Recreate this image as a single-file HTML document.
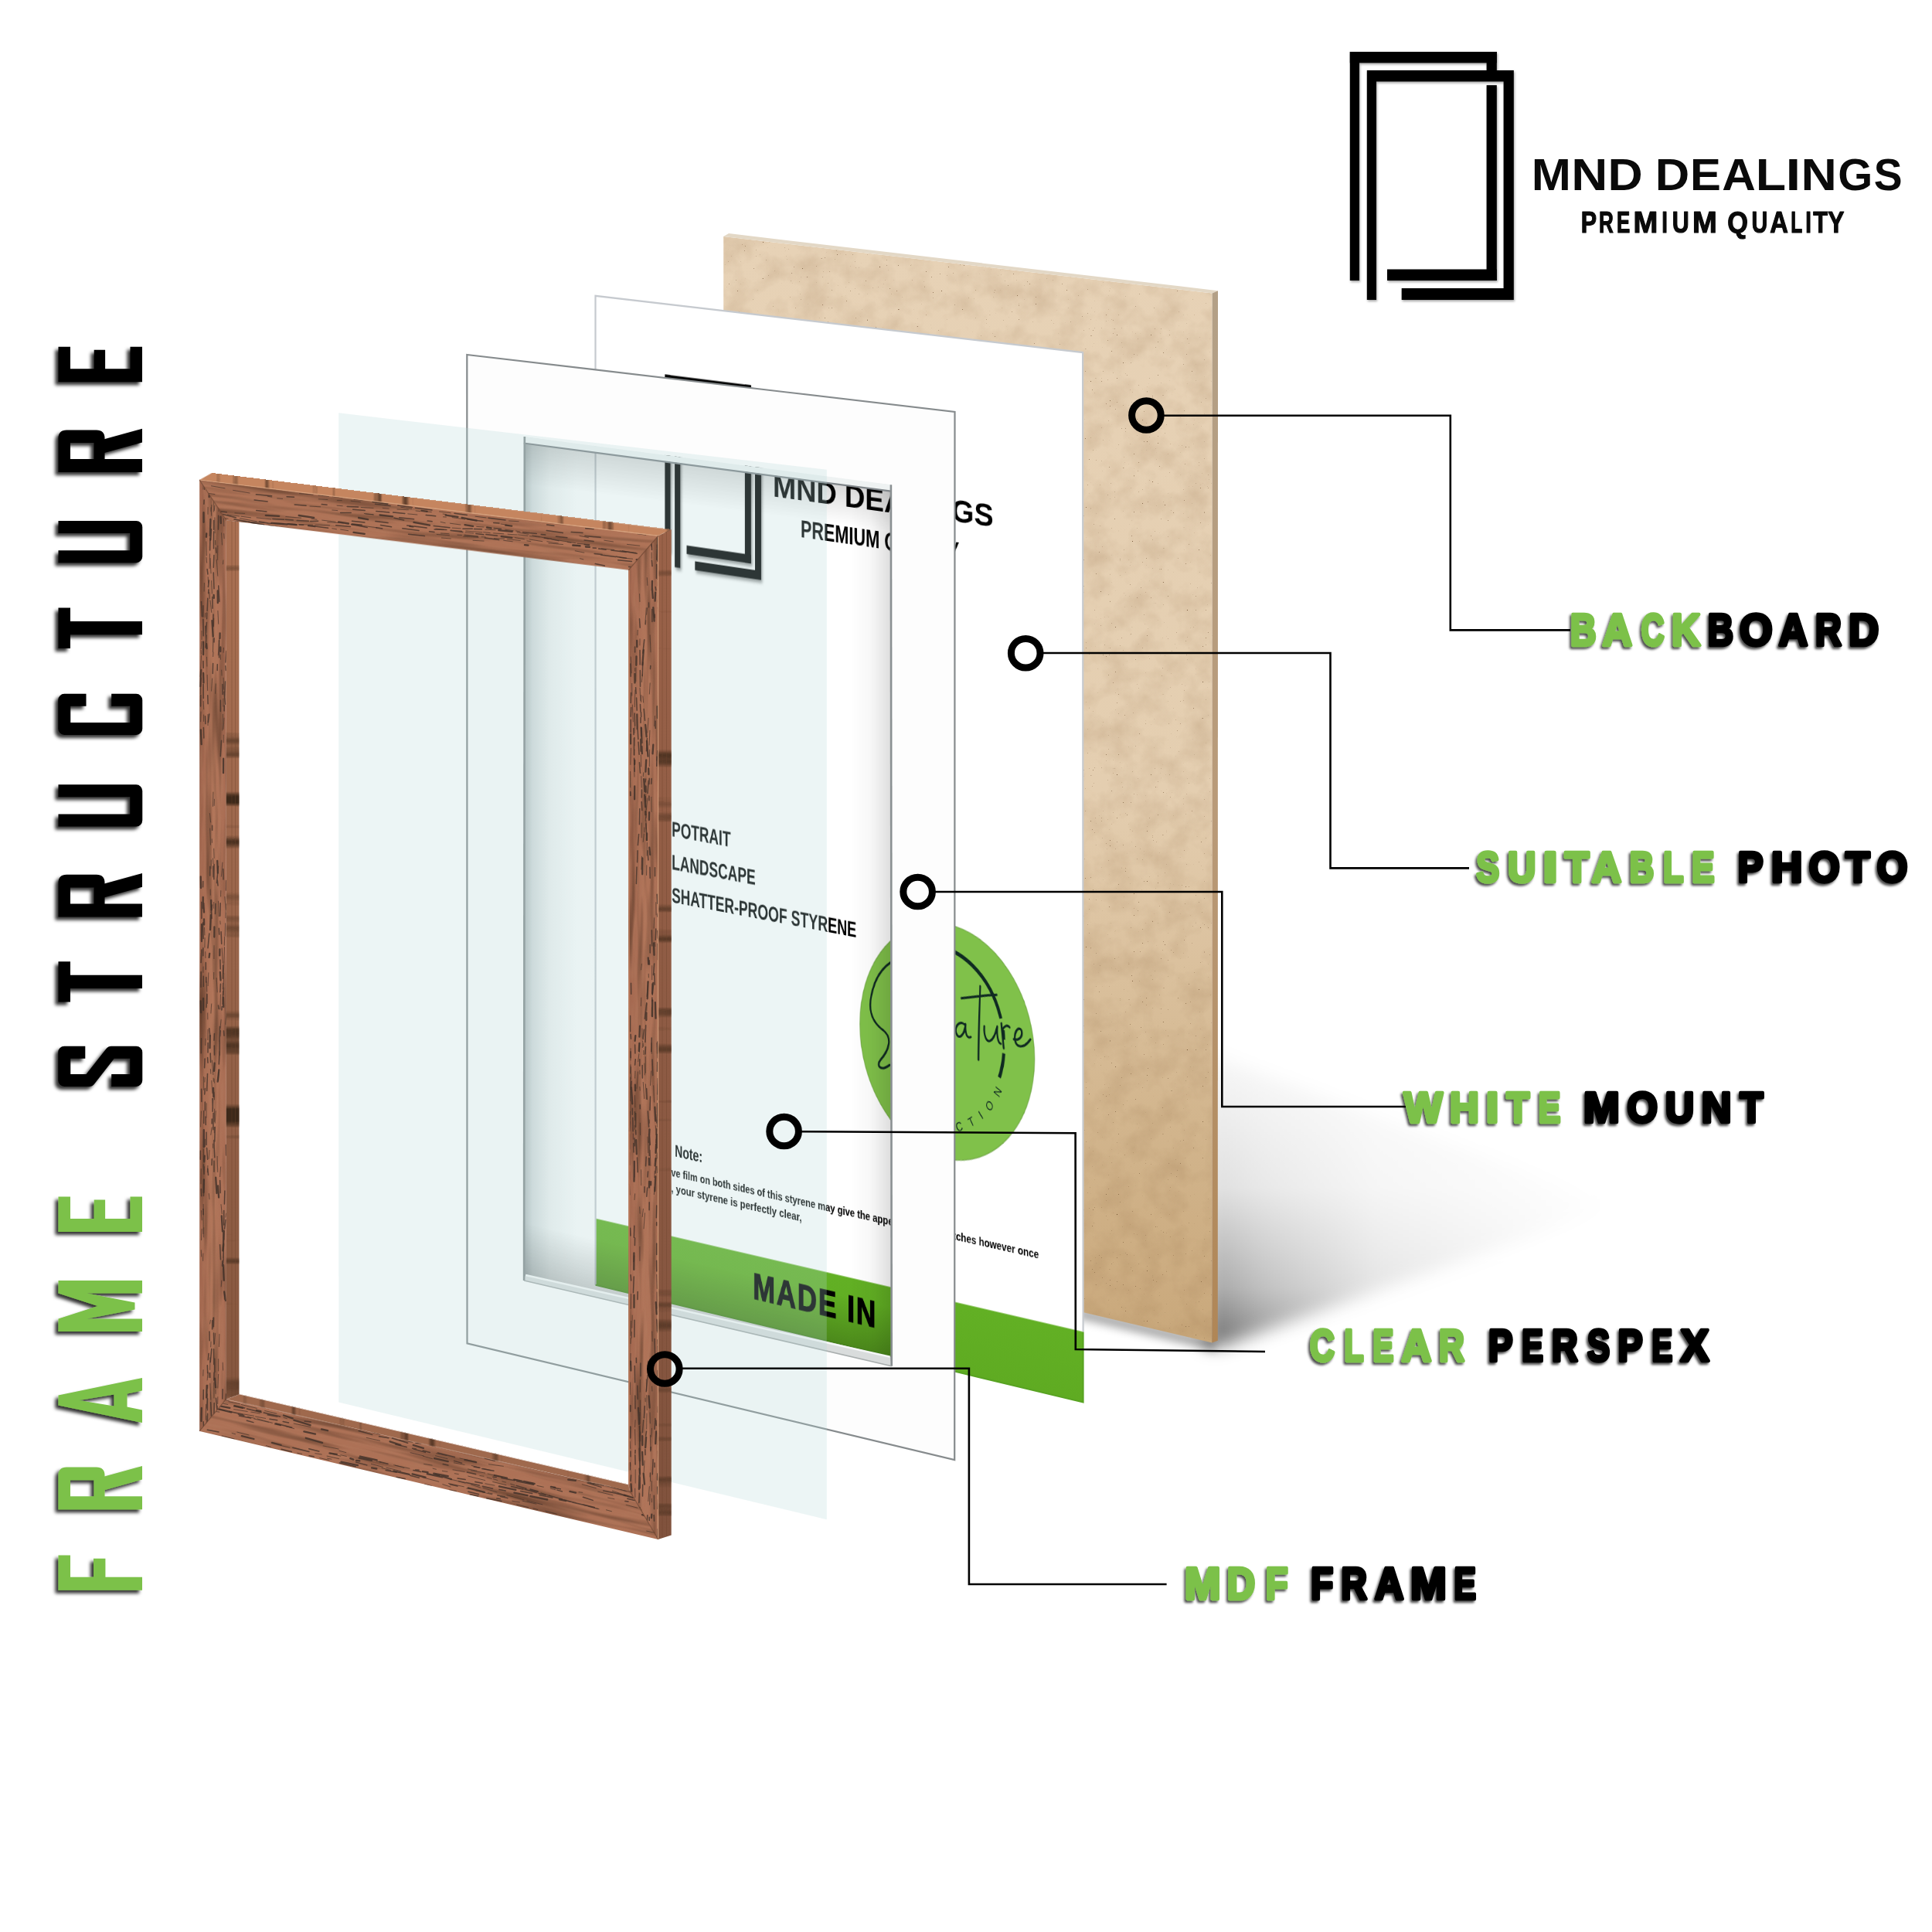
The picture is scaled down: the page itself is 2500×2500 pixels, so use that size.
<!DOCTYPE html>
<html><head><meta charset="utf-8"><title>Frame Structure</title>
<style>
html,body{margin:0;padding:0;background:#fff}
#stage{position:relative;width:2500px;height:2500px;overflow:hidden;background:#fff;font-family:"Liberation Sans",sans-serif}
#stage>svg{position:absolute;left:0;top:0}
#photo{position:absolute;left:0;top:0;width:860px;height:1320px;transform-origin:0 0;transform:matrix3d(0.63910162,0.054582547,0,-6.7200199e-05,-0.00026757993,0.9688804,0,-4.4554569e-07,0,0,1,0,770.5,382.8,0,1);outline:1px solid transparent;backface-visibility:hidden}
text{font-family:"Liberation Sans",sans-serif}
</style></head><body><div id="stage">
<svg id="back" width="2500" height="2500" viewBox="0 0 2500 2500"><defs>
<filter id="mdf" x="0" y="0" width="100%" height="100%" color-interpolation-filters="sRGB">
 <feTurbulence type="fractalNoise" baseFrequency="0.03" numOctaves="4" seed="11" result="n"/>
 <feColorMatrix in="n" type="matrix" values="0 0 0 0 0.55  0 0 0 0 0.40  0 0 0 0 0.25  0.34 0 0 0 -0.13" result="c"/>
 <feComposite in="c" in2="SourceGraphic" operator="in" result="cc"/>
 <feTurbulence type="fractalNoise" baseFrequency="0.45" numOctaves="2" seed="5" result="n2"/>
 <feColorMatrix in="n2" type="matrix" values="0 0 0 0 0.40  0 0 0 0 0.28  0 0 0 0 0.16  7 0 0 0 -5.45" result="c2"/>
 <feComposite in="c2" in2="SourceGraphic" operator="in" result="cc2"/>
 <feMerge><feMergeNode in="SourceGraphic"/><feMergeNode in="cc"/><feMergeNode in="cc2"/></feMerge>
</filter>
<filter id="woodV" x="0" y="0" width="100%" height="100%" color-interpolation-filters="sRGB">
 <feTurbulence type="fractalNoise" baseFrequency="0.12 0.008" numOctaves="2" seed="4" result="n"/>
 <feColorMatrix in="n" type="matrix" values="0 0 0 0 0.30  0 0 0 0 0.19  0 0 0 0 0.13  1.5 0 0 0 -0.68" result="c"/>
 <feComposite in="c" in2="SourceGraphic" operator="in" result="cc"/>
 <feTurbulence type="fractalNoise" baseFrequency="0.3 0.03" numOctaves="2" seed="9" result="n2"/>
 <feColorMatrix in="n2" type="matrix" values="0 0 0 0 0.70  0 0 0 0 0.49  0 0 0 0 0.38  0.9 0 0 0 -0.36" result="c2"/>
 <feComposite in="c2" in2="SourceGraphic" operator="in" result="cc2"/>
 <feMerge><feMergeNode in="SourceGraphic"/><feMergeNode in="cc2"/><feMergeNode in="cc"/></feMerge>
</filter>
<filter id="woodH" x="0" y="0" width="100%" height="100%" color-interpolation-filters="sRGB">
 <feTurbulence type="fractalNoise" baseFrequency="0.008 0.12" numOctaves="2" seed="8" result="n"/>
 <feColorMatrix in="n" type="matrix" values="0 0 0 0 0.30  0 0 0 0 0.19  0 0 0 0 0.13  1.5 0 0 0 -0.68" result="c"/>
 <feComposite in="c" in2="SourceGraphic" operator="in" result="cc"/>
 <feTurbulence type="fractalNoise" baseFrequency="0.03 0.3" numOctaves="2" seed="2" result="n2"/>
 <feColorMatrix in="n2" type="matrix" values="0 0 0 0 0.70  0 0 0 0 0.49  0 0 0 0 0.38  0.9 0 0 0 -0.36" result="c2"/>
 <feComposite in="c2" in2="SourceGraphic" operator="in" result="cc2"/>
 <feMerge><feMergeNode in="SourceGraphic"/><feMergeNode in="cc2"/><feMergeNode in="cc"/></feMerge>
</filter>
<filter id="bandH" x="0" y="0" width="100%" height="100%" color-interpolation-filters="sRGB">
 <feTurbulence type="fractalNoise" baseFrequency="0.05 0.001" numOctaves="3" seed="3" result="n"/>
 <feColorMatrix in="n" type="matrix" values="0 0 0 0 0.28  0 0 0 0 0.18  0 0 0 0 0.12  5 0 0 0 -3.0" result="c"/>
 <feComposite in="c" in2="SourceGraphic" operator="in" result="cc"/>
 <feMerge><feMergeNode in="SourceGraphic"/><feMergeNode in="cc"/></feMerge>
</filter>
<filter id="bandV" x="0" y="0" width="100%" height="100%" color-interpolation-filters="sRGB">
 <feTurbulence type="fractalNoise" baseFrequency="0.001 0.03" numOctaves="3" seed="6" result="n"/>
 <feColorMatrix in="n" type="matrix" values="0 0 0 0 0.24  0 0 0 0 0.16  0 0 0 0 0.10  5 0 0 0 -3.0" result="c"/>
 <feComposite in="c" in2="SourceGraphic" operator="in" result="cc"/>
 <feMerge><feMergeNode in="SourceGraphic"/><feMergeNode in="cc"/></feMerge>
</filter>
<filter id="blur20" x="-20%" y="-20%" width="140%" height="140%"><feGaussianBlur stdDeviation="11"/></filter>
<filter id="soft" x="-5%" y="-5%" width="110%" height="110%"><feGaussianBlur stdDeviation="0.55"/></filter>
<filter id="blur6" x="-20%" y="-50%" width="140%" height="200%"><feGaussianBlur stdDeviation="6"/></filter>
<filter id="ds" x="-5%" y="-5%" width="110%" height="110%"><feDropShadow dx="-2.2" dy="2.8" stdDeviation="1.5" flood-color="#000" flood-opacity="0.7"/></filter>
<filter id="dsv" x="-20%" y="-5%" width="140%" height="110%"><feDropShadow dx="-4" dy="4" stdDeviation="2.2" flood-color="#000" flood-opacity="0.8"/></filter>
<linearGradient id="gbb" x1="0" y1="306" x2="0" y2="1737" gradientUnits="userSpaceOnUse">
 <stop offset="0" stop-color="#e7d2b6"/><stop offset="0.5" stop-color="#e4ceb0"/><stop offset="0.62" stop-color="#ddc4a2"/><stop offset="0.8" stop-color="#d2b58d"/><stop offset="1" stop-color="#c9a87b"/></linearGradient>
<linearGradient id="gbbs" x1="0" y1="376" x2="0" y2="1737" gradientUnits="userSpaceOnUse">
 <stop offset="0" stop-color="#b3a087"/><stop offset="0.5" stop-color="#b99a78"/><stop offset="1" stop-color="#b08656"/></linearGradient>
<linearGradient id="gshadow" x1="1576" y1="0" x2="2090" y2="0" gradientUnits="userSpaceOnUse">
 <stop offset="0" stop-color="#000" stop-opacity="0.56"/><stop offset="0.12" stop-color="#000" stop-opacity="0.40"/><stop offset="0.4" stop-color="#000" stop-opacity="0.17"/><stop offset="1" stop-color="#000" stop-opacity="0"/></linearGradient>
<linearGradient id="gshmask" x1="0" y1="1370" x2="0" y2="1740" gradientUnits="userSpaceOnUse">
 <stop offset="0" stop-color="#fff" stop-opacity="0.06"/><stop offset="0.45" stop-color="#fff" stop-opacity="0.22"/><stop offset="0.8" stop-color="#fff" stop-opacity="0.6"/><stop offset="1" stop-color="#fff" stop-opacity="1"/></linearGradient>
<mask id="shmask" maskUnits="userSpaceOnUse" x="1400" y="1200" width="900" height="700"><rect x="1400" y="1200" width="900" height="700" fill="url(#gshmask)"/></mask>
<linearGradient id="gwinL" x1="678" y1="0" x2="790" y2="0" gradientUnits="userSpaceOnUse">
 <stop offset="0" stop-color="#b4bbbd"/><stop offset="0.1" stop-color="#d6dcdd"/><stop offset="0.3" stop-color="#eef1f1"/><stop offset="0.6" stop-color="#fbfcfc"/><stop offset="1" stop-color="#ffffff"/></linearGradient>
<linearGradient id="gwinR" x1="1100" y1="0" x2="1153" y2="0" gradientUnits="userSpaceOnUse">
 <stop offset="0" stop-color="#000" stop-opacity="0"/><stop offset="0.5" stop-color="#000" stop-opacity="0.03"/><stop offset="1" stop-color="#000" stop-opacity="0.13"/></linearGradient>
<linearGradient id="gwoodL" x1="258" y1="0" x2="293" y2="0" gradientUnits="userSpaceOnUse">
 <stop offset="0" stop-color="#a1664e"/><stop offset="0.5" stop-color="#b2765a"/><stop offset="1" stop-color="#a96d54"/></linearGradient>
<linearGradient id="gwoodR" x1="813" y1="0" x2="852" y2="0" gradientUnits="userSpaceOnUse">
 <stop offset="0" stop-color="#a2674f"/><stop offset="0.5" stop-color="#b07459"/><stop offset="1" stop-color="#ab6f55"/></linearGradient>
<linearGradient id="gside" x1="0" y1="690" x2="0" y2="1990" gradientUnits="userSpaceOnUse">
 <stop offset="0" stop-color="#9a6249"/><stop offset="0.5" stop-color="#8e5b44"/><stop offset="1" stop-color="#80523d"/></linearGradient>
<linearGradient id="ginner" x1="0" y1="675" x2="0" y2="1805" gradientUnits="userSpaceOnUse">
 <stop offset="0" stop-color="#aa7052"/><stop offset="0.5" stop-color="#98644a"/><stop offset="1" stop-color="#86573f"/></linearGradient>
</defs>
<g mask="url(#shmask)"><g filter="url(#blur20)"><polygon points="1560.0,1360.0 1560.0,1742.0 1580.0,1742.0 2090.0,1560.0" fill="url(#gshadow)"/></g></g><g filter="url(#blur6)" opacity="0.35"><polygon points="1395.0,1692.0 1572.0,1734.0 1572.0,1748.0 1395.0,1706.0" fill="#000"/></g><polygon points="936.2,306.0 1568.6,379.4 1568.4,1737.4 936.2,1588.2" fill="url(#gbb)" filter="url(#mdf)"/><polygon points="936.2,306.0 943.0,302.1 1576.0,376.2 1568.6,379.4" fill="#e3d8c6"/><polygon points="1568.6,379.4 1576.0,376.2 1575.8,1734.8 1568.4,1737.4" fill="url(#gbbs)"/><polygon points="677.8,565.0 1152.9,627.2 1153.7,1767.7 678.1,1657.0" fill="url(#gwinL)"/></svg><div id="photo"><svg width="860" height="1320" viewBox="0 0 860 1320"><defs><path id="arcbot" d="M 515.9,973.7 A 125.5,125.5 0 0 0 726.6,944"/><linearGradient id="ggb" x1="0" y1="1231" x2="0" y2="1320" gradientUnits="userSpaceOnUse"><stop offset="0" stop-color="#62b024"/><stop offset="1" stop-color="#5fab22"/></linearGradient></defs><rect x="0" y="0" width="860" height="1320" fill="#fff"/><filter id="lgs" x="-10%" y="-10%" width="130%" height="130%"><feDropShadow dx="2" dy="3.5" stdDeviation="2.2" flood-color="#000" flood-opacity="0.45"/></filter><g filter="url(#lgs)"><g transform="translate(129,93.6) scale(0.825,0.788)"><g fill="#000"><rect x="0" y="0" width="12.2" height="296"/><rect x="0" y="0" width="190" height="14.4"/><rect x="176.8" y="0" width="13.2" height="24.5"/><rect x="176.8" y="43.2" width="13.2" height="252.8"/><rect x="48.2" y="281.5" width="141.8" height="14.5"/><path d="M22,321 V24 H212 V321 H66.9 V306 H198.8 V38.6 H34.2 V321 Z"/></g></g></g><text x="325" y="235" font-size="41.2" font-weight="700" fill="#000" textLength="385" lengthAdjust="spacingAndGlyphs">MND DEALINGS</text><text x="374.5" y="283" font-size="31.5" font-weight="700" fill="#000" textLength="277" lengthAdjust="spacingAndGlyphs">PREMIUM QUALITY</text><text transform="translate(141.5,702.7) scale(0.875,1)" font-size="28" font-weight="700" fill="#000">POTRAIT</text><text transform="translate(141.5,746.4) scale(0.875,1)" font-size="28" font-weight="700" fill="#000">LANDSCAPE</text><text transform="translate(141.5,790.0) scale(0.875,1)" font-size="28" font-weight="700" fill="#000">SHATTER-PROOF STYRENE</text><circle cx="629" cy="901" r="150" fill="#80c14a"/><circle cx="629" cy="901" r="150" fill="none" stroke="#5f9a32" stroke-width="1.5" opacity="0.6"/><path d="M 598.4,783.7 A 110,110 0 0 1 722.1,858" fill="none" stroke="#0f2a22" stroke-width="5.2"/><path d="M 727.1,901.6 A 110,110 0 0 1 719.5,933.2" fill="none" stroke="#0f2a22" stroke-width="5.2"/><path d="M 726.5,872 A 110,110 0 0 1 727.5,884" fill="none" stroke="#0f2a22" stroke-width="4"/><g fill="none" stroke="#0f2a22" stroke-width="3" stroke-linecap="round" stroke-linejoin="round"><path d="M 572,800 C 545,803 518,818 505,845 C 489,880 500,895 520,903 C 536,910 531,926 515,942 C 507,951 516,957 531,946"/><path d="M 575,878 L 578,900 M 590,880 C 582,880 582,898 592,895 C 598,892 598,880 598,930 C 597,948 586,946 588,932"/><path d="M 610,897 C 612,878 620,880 622,897 C 624,878 632,880 634,897"/><path d="M 661,875 C 651,870 643,880 646,888 C 650,896 660,890 662,874 C 661,885 664,893 671,889"/><path d="M 687,822 C 686,850 684,890 684,916 M 655,842 C 675,838 695,832 715,829"/><path d="M 694,872 C 693,885 698,892 704,889 C 710,886 714,876 716,869 C 715,880 717,890 722,890"/><path d="M 723,864 C 724,875 726,888 727,895 M 724,873 C 728,866 733,864 737,867"/><path d="M 744,881 C 752,882 760,876 757,868 C 752,862 744,872 746,882 C 749,892 762,890 772,877"/></g><text font-size="16" fill="#0f2a22" letter-spacing="13.2" font-weight="400"><textPath href="#arcbot" startOffset="27">COLLECTION</textPath></text><text transform="translate(147,1125) scale(0.9,1)" font-size="22" font-weight="700" fill="#000">Note:</text><text transform="translate(62.4,1152) scale(1.018,1)" font-size="15" font-weight="700" fill="#000">he protective film on both sides of this styrene may give the appearance of scratches however once</text><text transform="translate(74.5,1173) scale(1.054,1)" font-size="15" font-weight="700" fill="#000">removed, your styrene is perfectly clear,</text><rect x="0" y="1231.4" width="860" height="88.6" fill="url(#ggb)"/><text x="288.8" y="1288.5" font-size="48" font-weight="700" fill="#000" stroke="#000" stroke-width="1.3" letter-spacing="2.6">MADE IN</text><text x="548" y="1288.5" font-size="48" font-weight="700" fill="#0c0c0c" letter-spacing="2.6">UK</text></svg></div><svg id="front" width="2500" height="2500" viewBox="0 0 2500 2500"><defs>
<filter id="f_mdf" x="0" y="0" width="100%" height="100%" color-interpolation-filters="sRGB">
 <feTurbulence type="fractalNoise" baseFrequency="0.03" numOctaves="4" seed="11" result="n"/>
 <feColorMatrix in="n" type="matrix" values="0 0 0 0 0.55  0 0 0 0 0.40  0 0 0 0 0.25  0.34 0 0 0 -0.13" result="c"/>
 <feComposite in="c" in2="SourceGraphic" operator="in" result="cc"/>
 <feTurbulence type="fractalNoise" baseFrequency="0.45" numOctaves="2" seed="5" result="n2"/>
 <feColorMatrix in="n2" type="matrix" values="0 0 0 0 0.40  0 0 0 0 0.28  0 0 0 0 0.16  7 0 0 0 -5.45" result="c2"/>
 <feComposite in="c2" in2="SourceGraphic" operator="in" result="cc2"/>
 <feMerge><feMergeNode in="SourceGraphic"/><feMergeNode in="cc"/><feMergeNode in="cc2"/></feMerge>
</filter>
<filter id="f_woodV" x="0" y="0" width="100%" height="100%" color-interpolation-filters="sRGB">
 <feTurbulence type="fractalNoise" baseFrequency="0.12 0.008" numOctaves="2" seed="4" result="n"/>
 <feColorMatrix in="n" type="matrix" values="0 0 0 0 0.30  0 0 0 0 0.19  0 0 0 0 0.13  1.5 0 0 0 -0.68" result="c"/>
 <feComposite in="c" in2="SourceGraphic" operator="in" result="cc"/>
 <feTurbulence type="fractalNoise" baseFrequency="0.3 0.03" numOctaves="2" seed="9" result="n2"/>
 <feColorMatrix in="n2" type="matrix" values="0 0 0 0 0.70  0 0 0 0 0.49  0 0 0 0 0.38  0.9 0 0 0 -0.36" result="c2"/>
 <feComposite in="c2" in2="SourceGraphic" operator="in" result="cc2"/>
 <feMerge><feMergeNode in="SourceGraphic"/><feMergeNode in="cc2"/><feMergeNode in="cc"/></feMerge>
</filter>
<filter id="f_woodH" x="0" y="0" width="100%" height="100%" color-interpolation-filters="sRGB">
 <feTurbulence type="fractalNoise" baseFrequency="0.008 0.12" numOctaves="2" seed="8" result="n"/>
 <feColorMatrix in="n" type="matrix" values="0 0 0 0 0.30  0 0 0 0 0.19  0 0 0 0 0.13  1.5 0 0 0 -0.68" result="c"/>
 <feComposite in="c" in2="SourceGraphic" operator="in" result="cc"/>
 <feTurbulence type="fractalNoise" baseFrequency="0.03 0.3" numOctaves="2" seed="2" result="n2"/>
 <feColorMatrix in="n2" type="matrix" values="0 0 0 0 0.70  0 0 0 0 0.49  0 0 0 0 0.38  0.9 0 0 0 -0.36" result="c2"/>
 <feComposite in="c2" in2="SourceGraphic" operator="in" result="cc2"/>
 <feMerge><feMergeNode in="SourceGraphic"/><feMergeNode in="cc2"/><feMergeNode in="cc"/></feMerge>
</filter>
<filter id="f_bandH" x="0" y="0" width="100%" height="100%" color-interpolation-filters="sRGB">
 <feTurbulence type="fractalNoise" baseFrequency="0.05 0.001" numOctaves="3" seed="3" result="n"/>
 <feColorMatrix in="n" type="matrix" values="0 0 0 0 0.28  0 0 0 0 0.18  0 0 0 0 0.12  5 0 0 0 -3.0" result="c"/>
 <feComposite in="c" in2="SourceGraphic" operator="in" result="cc"/>
 <feMerge><feMergeNode in="SourceGraphic"/><feMergeNode in="cc"/></feMerge>
</filter>
<filter id="f_bandV" x="0" y="0" width="100%" height="100%" color-interpolation-filters="sRGB">
 <feTurbulence type="fractalNoise" baseFrequency="0.001 0.03" numOctaves="3" seed="6" result="n"/>
 <feColorMatrix in="n" type="matrix" values="0 0 0 0 0.24  0 0 0 0 0.16  0 0 0 0 0.10  5 0 0 0 -3.0" result="c"/>
 <feComposite in="c" in2="SourceGraphic" operator="in" result="cc"/>
 <feMerge><feMergeNode in="SourceGraphic"/><feMergeNode in="cc"/></feMerge>
</filter>
<filter id="f_blur20" x="-20%" y="-20%" width="140%" height="140%"><feGaussianBlur stdDeviation="11"/></filter>
<filter id="f_soft" x="-5%" y="-5%" width="110%" height="110%"><feGaussianBlur stdDeviation="0.55"/></filter>
<filter id="f_blur6" x="-20%" y="-50%" width="140%" height="200%"><feGaussianBlur stdDeviation="6"/></filter>
<filter id="f_ds" x="-5%" y="-5%" width="110%" height="110%"><feDropShadow dx="-2.2" dy="2.8" stdDeviation="1.5" flood-color="#000" flood-opacity="0.7"/></filter>
<filter id="f_dsv" x="-20%" y="-5%" width="140%" height="110%"><feDropShadow dx="-4" dy="4" stdDeviation="2.2" flood-color="#000" flood-opacity="0.8"/></filter>
<linearGradient id="f_gbb" x1="0" y1="306" x2="0" y2="1737" gradientUnits="userSpaceOnUse">
 <stop offset="0" stop-color="#e7d2b6"/><stop offset="0.5" stop-color="#e4ceb0"/><stop offset="0.62" stop-color="#ddc4a2"/><stop offset="0.8" stop-color="#d2b58d"/><stop offset="1" stop-color="#c9a87b"/></linearGradient>
<linearGradient id="f_gbbs" x1="0" y1="376" x2="0" y2="1737" gradientUnits="userSpaceOnUse">
 <stop offset="0" stop-color="#b3a087"/><stop offset="0.5" stop-color="#b99a78"/><stop offset="1" stop-color="#b08656"/></linearGradient>
<linearGradient id="f_gshadow" x1="1576" y1="0" x2="2090" y2="0" gradientUnits="userSpaceOnUse">
 <stop offset="0" stop-color="#000" stop-opacity="0.56"/><stop offset="0.12" stop-color="#000" stop-opacity="0.40"/><stop offset="0.4" stop-color="#000" stop-opacity="0.17"/><stop offset="1" stop-color="#000" stop-opacity="0"/></linearGradient>
<linearGradient id="f_gshmask" x1="0" y1="1370" x2="0" y2="1740" gradientUnits="userSpaceOnUse">
 <stop offset="0" stop-color="#fff" stop-opacity="0.06"/><stop offset="0.45" stop-color="#fff" stop-opacity="0.22"/><stop offset="0.8" stop-color="#fff" stop-opacity="0.6"/><stop offset="1" stop-color="#fff" stop-opacity="1"/></linearGradient>
<mask id="f_shmask" maskUnits="userSpaceOnUse" x="1400" y="1200" width="900" height="700"><rect x="1400" y="1200" width="900" height="700" fill="url(#f_gshmask)"/></mask>
<linearGradient id="f_gwinL" x1="678" y1="0" x2="790" y2="0" gradientUnits="userSpaceOnUse">
 <stop offset="0" stop-color="#b4bbbd"/><stop offset="0.1" stop-color="#d6dcdd"/><stop offset="0.3" stop-color="#eef1f1"/><stop offset="0.6" stop-color="#fbfcfc"/><stop offset="1" stop-color="#ffffff"/></linearGradient>
<linearGradient id="f_gwinR" x1="1100" y1="0" x2="1153" y2="0" gradientUnits="userSpaceOnUse">
 <stop offset="0" stop-color="#000" stop-opacity="0"/><stop offset="0.5" stop-color="#000" stop-opacity="0.03"/><stop offset="1" stop-color="#000" stop-opacity="0.13"/></linearGradient>
<linearGradient id="f_gwoodL" x1="258" y1="0" x2="293" y2="0" gradientUnits="userSpaceOnUse">
 <stop offset="0" stop-color="#a1664e"/><stop offset="0.5" stop-color="#b2765a"/><stop offset="1" stop-color="#a96d54"/></linearGradient>
<linearGradient id="f_gwoodR" x1="813" y1="0" x2="852" y2="0" gradientUnits="userSpaceOnUse">
 <stop offset="0" stop-color="#a2674f"/><stop offset="0.5" stop-color="#b07459"/><stop offset="1" stop-color="#ab6f55"/></linearGradient>
<linearGradient id="f_gside" x1="0" y1="690" x2="0" y2="1990" gradientUnits="userSpaceOnUse">
 <stop offset="0" stop-color="#9a6249"/><stop offset="0.5" stop-color="#8e5b44"/><stop offset="1" stop-color="#80523d"/></linearGradient>
<linearGradient id="f_ginner" x1="0" y1="675" x2="0" y2="1805" gradientUnits="userSpaceOnUse">
 <stop offset="0" stop-color="#aa7052"/><stop offset="0.5" stop-color="#98644a"/><stop offset="1" stop-color="#86573f"/></linearGradient>
</defs>
<polyline points="770.6,1662.7 770.5,382.8 1401.1,456.1 1401.6,1723.4" fill="none" stroke="#c6cacf" stroke-width="2.2" stroke-linejoin="miter"/><polyline points="1401.6,1723.4 1401.6,1814.6 770.6,1662.7" fill="none" stroke="#58a322" stroke-width="2" stroke-linejoin="miter"/><linearGradient id="gwinT" x1="0" y1="0" x2="0" y2="1" gradientUnits="objectBoundingBox"><stop offset="0" stop-color="#000" stop-opacity="0.16"/><stop offset="1" stop-color="#000" stop-opacity="0"/></linearGradient><g transform="matrix(1,0.1245,0,1,677.8,573.0)"><rect x="0" y="0" width="475.1" height="55" fill="url(#gwinT)"/></g><polygon points="677.8,565.0 1152.9,627.2 1153.7,1767.7 678.1,1657.0" fill="url(#f_gwinR)"/><linearGradient id="gwinB" x1="0" y1="0" x2="0" y2="1" gradientUnits="objectBoundingBox"><stop offset="0" stop-color="#000" stop-opacity="0"/><stop offset="1" stop-color="#000" stop-opacity="0.22"/></linearGradient><g transform="matrix(1,0.2328,0,1,678.1,1651.0)"><rect x="0" y="-70" width="475.6" height="70" fill="url(#gwinB)"/></g><path d="M604.3,459.0 L1235.5,533.0 L1235.2,1889.1 L604.5,1738.3 Z M677.8,565.0 L1152.9,627.2 L1153.7,1767.7 L678.1,1657.0 Z" fill="#fdfdfd" fill-rule="evenodd" stroke="none"/><polygon points="604.3,459.0 1235.5,533.0 1235.2,1889.1 604.5,1738.3" fill="none" stroke="#868b8d" stroke-width="2.2"/><polygon points="680.1,1650.0 1151.7,1755.7 1153.7,1767.7 678.1,1657.0" fill="#d9dcdc"/><polyline points="680.1,1650.0 1151.7,1755.7" fill="none" stroke="#f4f6f6" stroke-width="2.5"/><polygon points="677.8,565.0 1152.9,627.2 1152.9,635.2 677.8,573.0" fill="#eef2f2"/><polyline points="677.8,573.5 1152.9,635.7" fill="none" stroke="#80868a" stroke-width="2.2"/><polyline points="678.1,1657.0 678.8,565.0" fill="none" stroke="#8a9092" stroke-width="2.6"/><polyline points="1152.9,627.2 1153.7,1767.7" fill="none" stroke="#8a9092" stroke-width="2.6"/><polyline points="678.1,1657.0 1153.7,1767.7" fill="none" stroke="#a9aeae" stroke-width="1.6"/><polygon points="438.2,534.3 1069.8,607.7 1069.8,1966.3 438.3,1814.6" fill="#b3d6d8" fill-opacity="0.25"/><g><clipPath id="cl_l"><polygon points="258.2,621.0 292.8,673.2 292.8,1810.5 258.2,1851.9"/></clipPath><clipPath id="cl_r"><polygon points="851.6,693.5 851.6,1992.0 815.0,1929.5 813.3,1921.2 813.3,737.6"/></clipPath><clipPath id="cl_t"><polygon points="258.2,621.0 851.6,693.5 813.3,737.6 309.4,675.2 292.8,673.2"/></clipPath><clipPath id="cl_b"><polygon points="258.2,1851.9 292.8,1810.5 815.0,1929.5 851.6,1992.0"/></clipPath><polygon points="258.2,621.0 292.8,673.2 292.8,1810.5 258.2,1851.9" fill="url(#f_gwoodL)" filter="url(#f_woodV)"/><polygon points="851.6,693.5 851.6,1992.0 815.0,1929.5 813.3,1921.2 813.3,737.6" fill="url(#f_gwoodR)" filter="url(#f_woodV)"/><g transform="matrix(1,0.12220,0,1,258.2,621.0)"><polygon points="0.0,0.0 593.4,-0.0 555.1,48.8 51.2,47.9 34.6,48.0" fill="#af7357" filter="url(#f_woodH)"/></g><g transform="matrix(1,0.23610,0,1,258.2,1851.9)"><polygon points="0.0,0.0 34.6,-49.6 556.8,-53.9 593.4,-0.0" fill="#ad7156" filter="url(#f_woodH)"/></g><g filter="url(#f_soft)"><g clip-path="url(#cl_l)"><path d="M261.0,816.4l-0.0,11.2M260.9,829.8l-0.7,10.0M260.2,841.5l0.2,5.1M260.5,848.2l-0.8,17.2M259.5,889.6l-0.1,8.6M260.0,921.0l-0.3,12.7M260.4,1438.0l-0.8,20.1M260.2,1512.4l-0.2,19.3M260.5,1566.6l0.8,12.1M261.2,1590.3l-0.7,14.3M260.3,1617.7l0.3,8.3M260.1,1852.9l-0.2,18.2M263.6,614.5l-0.6,18.6M263.2,907.4l0.5,10.4M263.6,925.0l-0.0,8.5M263.1,1251.0l-0.2,7.3M263.5,1393.5l0.2,17.0M263.4,1487.1l0.1,15.1M263.2,1575.5l-0.1,21.0M262.8,1622.1l-0.2,9.3M263.1,1772.6l-0.3,7.7M264.5,628.5l-0.0,5.1M264.4,754.5l-0.3,10.6M265.6,793.3l-0.3,5.4M267.5,850.3l0.4,11.9M268.2,873.4l0.4,20.1M269.0,924.5l-0.0,14.1M264.5,1200.3l0.4,9.6M265.1,1213.7l-0.2,12.3M265.7,1231.6l0.2,7.9M267.3,1270.6l0.5,12.6M268.7,1310.9l0.1,8.0M269.1,1332.3l-0.2,13.3M267.2,1427.7l-0.3,18.8M265.5,1474.2l0.0,9.5M263.2,1558.5l0.2,15.8M263.7,1588.7l-0.0,12.2M273.1,656.8l0.6,10.5M271.5,716.8l-0.3,18.7M271.7,1072.1l0.8,21.1M273.3,1112.8l-0.3,11.2M269.8,1258.8l-0.7,16.8M266.0,1344.2l-0.4,8.1M265.2,1394.5l-0.4,5.6M270.3,1544.5l0.7,7.2M272.4,1708.3l-0.8,4.7M269.1,1775.3l-0.9,10.6M266.6,1817.2l-0.4,20.0M265.3,1848.4l0.1,7.9M272.2,623.4l-0.3,7.7M269.1,656.5l-0.1,8.8M266.8,700.9l0.5,17.9M267.1,721.5l0.5,6.7M269.2,746.8l0.4,7.7M270.7,766.4l0.7,8.1M272.1,777.1l1.6,15.3M276.0,844.0l-0.3,5.6M274.6,878.1l-1.0,16.0M271.4,1052.5l1.2,11.5M274.2,1085.7l0.2,4.7M275.5,1110.9l0.6,6.7M267.7,1285.9l0.6,12.7M274.4,1372.1l1.4,18.4M276.1,1395.1l0.2,4.2M274.1,1458.9l-1.3,9.6M271.0,1488.4l-0.9,11.0M268.9,1508.4l-0.5,8.5M275.7,1705.2l0.1,13.3M270.4,1776.7l-0.3,5.8M268.9,1792.2l-0.2,4.4M268.4,1803.8l-1.1,18.6M267.0,1832.0l0.3,9.8M276.0,604.1l0.1,11.3M273.9,653.5l-0.9,8.0M272.1,722.5l0.9,19.4M273.6,751.6l0.8,16.4M276.0,826.2l-0.5,17.3M275.9,1025.1l-0.4,18.3M272.2,1151.0l0.1,7.3M273.7,1299.0l-0.8,12.1M272.4,1383.6l0.5,5.8M273.8,1398.5l1.0,16.0M275.5,1480.1l-0.0,5.2M273.0,1736.1l-0.3,6.8M271.9,1756.8l-0.2,15.6M271.8,1790.2l1.0,21.0M273.6,1836.6l1.3,11.7M274.9,1856.4l0.5,13.9M276.6,644.6l0.1,17.6M276.7,800.2l-0.2,10.8M277.4,1034.2l-0.2,8.2M276.7,1098.2l0.4,12.2M276.7,1167.4l0.0,7.9M277.0,1223.7l-0.1,16.9M276.7,1258.4l-0.1,8.6M277.0,1395.9l0.4,5.3M277.0,1413.3l0.5,9.6M277.6,1435.1l-0.2,16.3M277.2,1458.4l0.1,7.3M276.8,1789.3l0.1,19.8M277.6,1835.1l-0.5,7.9M277.9,654.0l-0.6,6.6M277.9,669.8l0.2,19.9M278.6,699.4l0.1,5.3M280.3,724.2l1.5,21.0M283.9,826.2l-1.6,21.6M279.2,884.9l-0.6,12.4M280.2,1265.5l1.0,18.4M279.2,1437.7l-1.0,15.5M278.7,1725.2l-1.2,13.5M279.0,1798.1l0.1,5.3M282.7,1853.1l1.3,12.8M284.4,624.0l-0.7,20.0M283.2,649.8l-0.2,11.9M281.8,706.2l-0.2,18.1M281.9,790.5l0.8,16.8M282.5,1166.2l0.6,19.5M285.4,1286.9l-0.5,19.1M282.9,1387.4l-0.4,10.5M281.1,1496.4l0.6,20.1M283.9,1726.5l-0.5,16.1M282.7,1758.6l-0.1,15.4M282.6,1778.4l-0.8,17.7M281.8,1807.8l-0.1,8.7M281.2,1819.1l-0.2,18.4M281.2,1844.3l0.7,21.2M285.2,655.4l-0.0,8.3M286.6,689.7l0.9,15.3M288.9,725.0l-0.4,4.9M285.2,847.2l0.3,6.0M286.7,867.1l0.4,7.0M288.9,904.1l-0.1,10.0M288.5,924.2l-0.7,20.9M287.9,1116.1l-1.5,18.1M285.8,1152.6l-0.2,7.4M284.8,1191.9l0.4,4.0M287.2,1227.0l1.0,19.4M288.3,1272.2l-0.3,7.7M288.4,1282.6l-0.7,17.2M286.1,1319.5l-1.1,10.7M285.6,1510.0l-1.0,12.6M286.0,1558.6l1.2,12.0M286.8,1657.1l-0.6,7.7M288.2,1763.3l0.4,9.7M289.4,627.1l-0.4,11.4M289.5,671.0l0.3,9.7M289.7,690.6l0.4,6.1M290.0,929.2l-0.9,14.3M289.2,951.1l-0.0,9.6M292.4,1169.7l-0.5,18.0M291.6,1194.8l-0.4,16.3M290.7,1212.3l-0.4,11.0M290.5,1225.7l-0.6,19.1M289.9,1245.1l-0.6,14.6M289.7,1259.9l-0.3,17.8M290.1,1672.4l0.3,9.0M289.7,640.4l1.4,9.8M289.5,838.3l-0.4,6.0M289.1,877.2l0.5,15.0M290.9,1160.4l1.4,16.6M292.9,1181.5l1.5,17.5M295.7,1221.7l1.3,21.7M296.7,1253.6l-0.2,20.0M293.4,1309.2l-1.6,16.2M294.5,1551.5l-0.9,13.7M292.6,1570.2l-0.7,4.8M290.5,1592.3l-0.4,11.9M288.6,1639.5l0.8,16.5" stroke="#43322a" stroke-width="0.9" stroke-opacity="0.75" fill="none" stroke-linecap="round"/><path d="M260.5,778.4l0.8,19.3M259.7,899.6l-0.1,14.5M260.8,1167.2l0.1,21.3M260.9,1228.9l-0.8,16.7M260.2,1257.6l-0.2,19.7M260.5,1343.7l-0.2,19.1M260.6,1409.2l0.3,16.2M259.4,1489.3l-0.1,10.9M260.3,1538.6l0.4,9.0M262.9,783.8l0.0,14.3M262.9,801.4l0.4,21.4M262.9,855.4l0.3,8.8M263.2,885.6l0.1,18.0M263.4,941.6l0.4,13.5M262.7,1140.4l-0.1,7.4M262.5,1193.9l0.7,20.7M262.9,1226.8l-0.1,9.9M263.3,1263.2l-0.0,13.2M263.8,1437.4l-0.1,16.0M263.4,1506.9l0.5,10.8M263.9,1526.0l-0.4,21.4M263.0,1564.6l0.2,6.9M263.3,1798.5l-0.1,12.2M263.2,1839.7l0.7,17.2M264.1,646.9l-0.2,5.3M265.8,810.3l0.8,16.5M268.8,899.8l0.3,11.0M266.3,1245.4l0.0,9.1M269.1,1349.5l-0.1,12.5M268.6,1368.5l0.4,6.8M268.5,1389.5l-0.8,21.9M264.2,1509.7l-0.2,9.6M268.3,1766.7l0.4,10.0M268.6,1809.8l-0.2,15.0M268.6,1829.3l-0.2,10.8M267.6,1857.7l-0.8,13.9M273.0,619.5l0.3,15.3M270.4,751.1l-1.0,8.3M269.9,763.1l-0.3,4.6M268.8,774.3l-0.7,16.1M267.7,793.1l-0.2,7.6M267.4,805.5l-0.8,13.4M267.0,821.9l-0.9,16.1M265.5,926.8l0.4,9.8M267.9,1286.7l-0.8,16.8M265.1,1369.9l-0.5,11.9M265.4,1408.6l-0.7,7.4M265.3,1425.9l0.0,10.9M266.1,1444.9l0.2,10.5M267.0,1465.3l0.1,16.3M267.6,1485.4l1.0,14.9M268.8,1512.2l0.7,8.2M271.0,1723.1l0.2,11.6M270.0,1751.5l-0.7,8.1M268.1,736.5l0.8,6.4M275.6,858.5l-0.3,12.9M270.7,924.1l-1.3,10.6M275.8,1121.0l0.2,13.8M274.5,1170.9l-1.3,10.0M270.8,1207.9l-1.8,18.8M266.8,1264.6l-0.0,6.3M270.8,1330.7l1.0,9.9M275.6,1421.4l-0.5,16.8M274.3,1447.9l-0.1,6.2M273.8,1745.4l-1.6,17.2M271.9,696.7l-0.3,15.4M274.8,772.5l0.3,14.8M276.1,795.0l-0.4,14.7M274.6,1068.2l0.0,6.1M271.8,1121.3l-0.2,11.8M273.6,1178.1l0.4,10.4M272.2,1363.0l0.4,11.6M274.9,1421.7l0.5,12.4M276.1,1440.3l-0.2,21.5M274.3,1499.8l-0.3,7.8M274.7,1708.7l-0.1,11.4M271.7,1776.4l0.1,6.0M272.6,1814.7l1.0,17.3M277.4,612.8l-0.5,4.1M277.1,625.5l-0.3,9.4M276.7,673.6l-0.1,11.7M276.6,688.0l-0.1,21.7M276.9,718.6l-0.6,15.6M276.3,741.0l0.7,20.7M277.1,825.8l-0.1,5.3M277.0,1118.5l-0.2,19.3M277.4,1337.6l-0.4,8.7M277.3,1352.9l0.2,12.2M276.9,1475.6l0.3,11.5M277.0,1502.2l-0.0,14.1M276.6,1705.1l-0.2,11.3M276.6,1724.9l0.3,14.5M276.6,1745.7l0.2,19.9M277.1,1776.0l-0.3,10.0M277.2,1815.5l-0.3,16.1M277.0,1854.0l0.6,21.8M279.4,709.1l0.5,6.2M282.7,757.9l1.2,20.6M281.3,859.8l-0.1,7.8M282.4,1121.0l-1.9,21.5M278.9,1169.4l-0.4,13.1M282.5,1301.0l0.6,4.4M284.1,1345.5l0.1,19.7M278.2,1458.6l-0.4,18.3M277.3,1488.0l0.5,9.7M277.7,1758.2l0.2,17.1M279.5,1809.2l1.3,14.3M280.9,1830.9l0.3,4.8M282.7,667.2l-0.2,17.9M283.5,828.8l0.1,21.9M285.4,906.2l-0.0,14.4M281.3,1138.8l0.7,7.2M283.3,1201.2l0.4,7.9M284.9,1242.1l0.3,11.9M285.4,1273.2l-0.5,10.6M284.5,1328.4l-0.6,19.5M284.0,1360.4l-0.7,16.5M284.6,1610.7l0.9,19.0M285.7,626.1l-1.1,18.8M287.8,885.5l0.3,13.1M286.5,958.2l-1.2,20.3M285.2,1168.8l-0.5,16.5M286.1,1205.7l0.6,15.5M288.6,1249.0l-0.2,17.3M287.3,1302.3l-0.4,4.6M285.2,1333.7l-0.5,6.9M284.6,1527.4l0.6,16.2M288.2,1797.7l-0.4,12.3M285.9,1846.1l-0.3,6.3M289.4,647.1l-0.3,18.4M292.8,842.6l-0.9,14.3M291.8,861.8l0.5,5.7M291.5,882.1l-0.9,21.2M290.2,913.1l-0.1,6.8M292.7,1139.6l-0.2,12.5M289.4,1278.3l-0.4,9.7M289.5,1333.9l0.5,6.2M292.3,1481.5l0.3,13.5M290.9,1540.9l-0.5,17.1M289.7,1566.4l0.0,18.7M289.3,1616.6l-0.2,14.1M292.5,1804.1l-0.2,18.9M291.3,1844.4l-0.2,9.6M289.2,605.1l0.0,8.7M288.9,617.3l0.5,17.4M290.0,895.3l1.5,16.0M288.7,1124.5l0.3,13.6M294.5,1205.0l1.8,15.2M296.5,1274.3l-1.0,5.4M295.3,1282.2l0.4,4.0M295.2,1289.7l-1.6,12.0M292.1,1578.4l-1.5,11.8M289.5,1609.5l-0.6,18.3M292.4,1828.4l-2.0,18.5" stroke="#43322a" stroke-width="1.5" stroke-opacity="0.80" fill="none" stroke-linecap="round"/><path d="M260.2,866.9l-0.6,8.9M259.9,877.1l-0.6,11.1M259.9,944.5l0.8,18.7M259.7,1134.5l0.3,14.5M261.0,1196.1l-0.0,22.0M259.7,1295.3l0.4,15.0M260.8,1822.0l-0.3,16.9M263.1,830.6l-0.0,16.4M263.1,870.9l0.4,12.6M262.7,1161.0l-0.0,14.2M263.1,1291.8l0.0,15.3M263.8,1462.2l0.0,22.0M265.4,616.9l-0.3,7.4M263.5,663.2l0.1,12.6M267.1,833.1l0.5,6.1M263.3,1168.9l0.7,11.6M264.0,1189.5l0.1,7.0M264.8,1495.6l-0.6,7.8M263.8,1526.7l-0.3,16.4M273.0,684.9l-0.7,13.8M273.2,1165.0l0.3,12.5M272.9,1184.1l-0.9,19.1M271.2,1233.9l-0.6,4.9M267.7,1792.8l-0.5,15.7M270.9,638.7l-0.3,4.3M267.2,690.4l-0.3,4.4M274.4,803.1l1.3,20.5M276.0,1407.8l0.4,11.5M272.4,672.0l-0.6,21.1M271.8,1340.1l-0.3,16.1M276.6,769.8l0.2,4.1M277.6,1375.6l-0.6,10.3M278.9,618.2l-0.5,4.2M277.4,1199.4l-0.1,13.1M283.3,1384.5l-1.6,15.2M279.2,1523.6l1.2,20.4M278.1,1783.7l1.0,11.8M281.7,1837.7l0.1,5.3M281.7,764.4l0.1,15.8M281.2,1113.9l0.6,15.8M284.4,1228.4l-0.1,8.0M284.8,1258.0l0.7,10.4M282.1,1534.3l1.0,15.2M285.5,668.7l0.3,8.3M284.6,819.3l-0.1,6.7M285.3,837.4l-0.0,5.6M286.8,1573.5l1.2,19.9M288.8,1610.6l-0.5,7.8M288.4,1632.0l-0.4,6.0M287.4,1821.0l-1.2,15.6M289.1,981.7l-0.1,18.5M288.9,1290.5l0.4,12.5M289.3,1592.7l-0.3,20.3M289.0,1637.0l0.8,19.9M294.6,945.7l1.1,12.3M296.5,968.6l0.3,10.5M296.8,1243.8l0.3,9.4M296.5,1516.2l-0.1,17.1M290.2,1671.4l1.7,11.5M290.1,1855.3l-0.8,21.8" stroke="#43322a" stroke-width="2.3" stroke-opacity="0.85" fill="none" stroke-linecap="round"/></g><g clip-path="url(#cl_r)"><path d="M814.9,724.5l-0.3,4.3M816.5,968.2l-0.7,21.2M815.6,998.4l0.1,20.4M816.1,1356.6l-0.1,15.2M816.0,1377.8l-0.6,11.3M815.7,1394.0l-0.0,16.5M815.1,1412.1l0.2,12.8M814.7,1426.9l0.2,9.9M814.7,1467.9l0.1,19.0M814.7,1491.7l0.1,15.9M814.6,1516.4l0.0,9.8M814.4,1532.2l0.7,13.8M816.6,1674.5l-0.3,18.8M816.7,1709.4l-0.8,19.0M816.4,1731.5l-0.4,7.1M816.1,1751.4l-0.3,14.9M814.3,1883.3l-0.0,6.3M815.3,1932.9l-0.3,4.5M816.3,850.0l0.9,20.9M817.7,884.4l0.1,15.7M818.3,912.1l1.0,21.8M816.5,1380.5l0.3,16.2M819.4,1467.1l0.0,7.0M821.6,1544.8l-0.6,7.7M818.2,1702.0l-0.3,16.2M817.4,1723.5l0.1,7.6M815.7,1788.9l-0.6,15.7M815.1,1865.4l0.6,9.0M815.5,1892.3l0.2,4.7M817.5,1954.7l0.7,6.7M821.5,704.7l-0.1,19.9M821.7,864.4l-0.1,4.1M821.9,892.9l-0.6,21.7M821.4,940.8l-0.5,7.8M821.0,969.9l-0.3,7.3M820.5,993.5l0.5,11.6M822.0,1386.1l-0.4,9.0M821.4,1417.5l0.3,15.3M821.3,1456.3l0.1,5.0M822.1,1837.7l-0.5,8.8M821.6,1849.8l0.5,19.9M822.2,1901.8l-0.0,17.3M821.7,1926.1l0.1,11.5M821.6,1982.7l-0.0,13.2M825.1,815.4l-0.2,6.4M823.0,863.9l-0.2,17.7M826.9,1363.6l-1.2,10.2M825.5,1386.9l-1.5,21.6M827.7,1561.8l0.4,8.4M827.9,1613.3l0.0,18.1M827.3,1845.8l0.5,6.6M827.7,1854.3l0.5,21.2M828.0,1876.2l0.4,9.7M827.2,1931.7l-0.7,13.2M826.0,1950.1l-0.4,5.3M827.6,768.6l0.3,10.0M828.0,826.9l-0.1,8.0M828.0,890.3l0.8,16.5M829.3,976.9l0.2,15.0M829.7,1004.6l0.5,14.4M830.2,1065.1l-0.1,18.6M830.5,1108.1l-0.6,17.0M827.5,1350.4l0.0,11.1M827.8,1385.2l0.2,4.7M827.9,1406.5l0.3,4.5M828.4,1453.2l0.1,15.4M829.5,1513.7l0.2,20.0M828.4,1785.5l-0.1,15.6M828.6,1812.1l-0.2,14.1M827.5,1891.2l0.6,7.8M827.7,1932.7l-0.0,11.5M836.3,786.8l-1.5,20.9M831.3,872.8l-1.0,9.8M829.8,899.6l-0.2,8.8M832.7,999.8l-0.4,4.8M835.9,1061.6l0.3,11.2M837.3,1090.2l-0.2,17.0M836.8,1119.7l-0.3,12.7M830.4,1247.3l-0.9,7.5M829.7,1291.1l-0.3,10.6M830.9,1331.1l0.3,12.1M831.5,1347.0l1.1,7.2M832.8,1359.4l0.1,5.2M833.9,1376.2l0.6,14.8M835.4,1402.9l0.9,19.2M832.4,1564.3l-1.1,10.1M836.3,1784.8l0.3,14.6M836.8,1805.5l0.4,19.2M837.0,1829.0l-0.3,20.2M834.0,1890.2l-0.8,14.9M829.9,1953.1l-0.4,10.1M829.2,1975.5l0.1,7.7M837.6,786.5l-1.0,8.7M835.7,802.6l-0.3,5.6M831.9,900.9l0.7,8.1M837.8,1032.8l-1.4,15.1M836.1,1053.8l-0.9,8.2M833.8,1071.0l0.1,5.7M833.3,1079.3l-1.1,10.1M838.8,1269.8l-1.8,19.6M831.9,1350.4l-0.6,5.2M832.2,1400.4l1.5,21.2M837.9,1471.2l0.8,20.5M834.5,1569.7l-1.5,20.1M838.5,1761.0l-0.2,7.0M835.0,1809.1l0.2,4.6M837.3,747.6l0.5,9.8M841.1,821.9l0.9,21.8M841.2,883.9l-0.8,14.1M839.1,929.3l-1.3,18.9M835.9,1043.0l0.2,15.3M839.2,1260.3l0.2,4.5M837.1,1298.6l-0.3,9.5M835.3,1367.6l0.1,20.8M841.2,1488.3l0.7,20.2M841.0,1827.9l0.3,13.8M841.5,1857.3l0.4,20.9M841.3,1906.2l-0.2,4.8M840.3,1923.6l-1.5,19.0M837.4,1978.8l-1.1,10.7M840.9,945.3l-0.8,18.8M840.6,970.2l-0.3,21.4M843.7,1249.7l0.0,18.0M842.6,1386.0l-1.1,18.4M840.2,1448.9l0.2,4.4M843.7,1722.9l0.5,12.6M844.1,1765.0l-0.1,11.9M843.6,1794.1l0.3,5.9M843.5,1848.2l-0.8,10.9M841.4,1905.8l0.2,11.0M841.2,1933.4l-0.7,13.8M840.3,1976.6l-0.6,4.9M843.1,689.4l-0.3,17.6M843.1,714.9l0.1,8.0M847.5,926.5l-0.9,13.1M842.8,1031.4l0.2,19.0M848.8,1167.7l0.3,16.3M847.6,1219.3l0.3,5.3M843.5,1303.5l-0.2,11.1M843.1,1349.7l0.2,13.7M845.7,1404.8l0.8,21.3M848.4,1456.7l0.5,11.9M849.1,1474.3l-0.4,16.3M849.0,1494.8l-0.5,7.9M843.2,1916.5l0.0,12.8M843.4,1939.3l-0.1,4.4M843.1,1978.5l1.1,10.7M850.6,670.8l0.2,10.2M846.6,1187.8l-0.5,13.3M849.9,1349.7l0.5,13.4M851.2,1402.8l-0.6,20.5M847.2,1515.3l-0.3,8.3M846.9,1536.0l-0.5,9.6M849.6,1707.0l0.6,15.6M850.6,1733.6l0.3,6.2M846.8,1983.1l0.6,15.0M851.4,732.6l-0.3,17.4M851.4,752.8l-0.1,5.0M851.8,770.7l-0.5,8.2M851.4,786.2l0.2,4.5M850.6,971.4l-0.8,12.5M850.9,1182.2l-0.5,4.1M850.5,1449.0l0.0,9.4M850.2,1491.9l0.1,7.1M850.1,1509.3l0.3,8.3M849.7,1649.4l0.5,18.1M850.0,1672.0l0.2,21.0M850.1,1707.8l0.8,16.6M851.3,1854.6l0.1,15.0M851.2,1877.8l0.6,19.4M851.4,1940.5l-0.6,12.0M851.0,1978.5l-0.5,21.6" stroke="#43322a" stroke-width="0.9" stroke-opacity="0.75" fill="none" stroke-linecap="round"/><path d="M815.1,688.0l-0.8,11.9M815.9,859.1l0.3,16.1M816.6,896.6l-0.3,13.0M816.7,915.5l-0.5,11.7M816.2,931.3l-0.0,16.5M816.5,1272.2l0.2,14.1M816.1,1338.5l0.4,5.8M815.3,1438.2l-0.5,11.8M815.1,1451.3l-0.6,12.4M815.6,1589.3l0.3,9.8M816.1,1649.8l0.6,7.1M816.8,678.9l0.1,4.2M816.5,698.4l-0.2,10.1M819.8,942.4l0.3,8.2M820.4,955.5l0.1,21.3M820.6,981.3l0.6,16.9M815.5,1314.6l-0.0,20.2M816.1,1360.7l0.1,8.0M817.3,1399.0l-0.5,6.2M818.3,1434.2l-0.0,8.0M818.8,1446.2l0.3,17.5M819.8,1479.6l0.3,11.5M821.6,1601.9l-0.2,9.7M820.5,1624.9l-0.2,7.7M820.3,1651.9l-0.8,20.8M815.9,1877.9l0.1,6.9M816.5,1909.1l-0.5,7.3M821.6,836.9l0.0,7.1M821.2,922.9l0.4,16.3M820.9,954.6l-0.1,10.3M821.6,1352.0l0.3,10.9M822.3,1370.8l-0.7,7.2M821.5,1438.7l0.3,10.8M821.1,1472.8l0.1,10.0M820.8,1586.2l-0.4,15.1M821.0,1708.2l-0.2,21.8M821.3,1767.5l0.3,21.3M821.8,1805.9l0.2,16.9M822.1,1876.4l-0.2,4.2M821.8,1882.7l0.3,12.2M822.6,889.7l0.5,7.7M823.6,903.1l0.6,16.0M825.2,944.7l0.6,11.7M826.0,960.3l1.1,15.9M827.4,986.8l1.0,13.4M827.8,1046.4l-0.4,20.3M826.6,1079.5l-1.2,14.1M825.1,1100.8l-0.5,14.9M824.0,1121.9l-0.6,21.7M822.6,1440.8l0.0,17.4M822.6,1462.6l0.3,5.3M824.5,1498.1l0.7,18.6M825.2,1671.4l-0.2,10.1M823.3,1757.3l0.1,6.0M824.7,1793.3l0.6,17.2M828.3,1887.1l-0.4,19.3M827.5,800.7l0.7,11.4M828.0,841.5l0.2,18.6M828.3,867.6l0.2,20.6M828.5,911.5l0.4,9.5M829.1,928.5l-0.1,6.7M829.4,941.1l0.2,11.6M830.4,1022.1l-0.1,10.0M830.2,1037.4l0.6,11.1M827.8,1370.7l-0.1,8.6M828.2,1429.7l0.1,5.0M828.9,1763.9l0.0,16.8M828.2,1827.4l-0.5,14.6M827.7,1845.2l-0.0,7.3M827.8,1865.1l-0.3,8.7M827.8,1950.4l0.3,19.4M828.2,1980.0l0.3,21.1M829.5,921.5l0.2,5.9M836.2,1497.1l-0.6,11.6M834.1,1535.7l-0.2,7.2M836.5,1851.9l-0.8,6.0M834.9,1875.7l0.1,6.7M831.7,1921.3l-0.2,14.7M829.5,1989.2l0.1,19.4M833.7,827.8l-1.8,17.3M831.8,856.9l-0.6,17.7M833.2,917.5l1.3,14.8M839.2,1010.3l-1.2,16.1M836.7,1297.8l-2.4,20.4M833.4,1332.3l-1.4,12.5M831.2,1378.4l0.2,16.5M838.5,1516.0l-0.5,6.9M837.6,1537.0l-0.8,11.3M838.2,1779.5l-2.0,21.3M834.3,1819.5l-0.9,15.3M832.6,1837.7l-1.1,15.9M838.0,1971.1l1.1,16.3M839.5,779.9l0.1,5.9M841.8,861.5l-0.3,4.0M837.4,955.4l-0.9,16.4M835.6,1007.9l-0.6,4.0M835.2,1030.8l0.3,6.1M835.9,1065.8l1.2,21.6M838.0,1100.8l0.9,12.2M841.2,1222.4l-0.0,10.7M840.1,1242.8l0.3,5.2M835.7,1326.8l-0.7,21.7M835.5,1354.8l-0.6,9.2M836.7,1408.6l0.6,13.8M838.3,1437.9l1.3,20.2M837.8,1960.7l-0.9,14.0M842.6,689.6l0.9,21.9M843.4,725.0l0.6,7.6M843.8,788.6l0.1,15.8M840.2,1007.2l-0.2,7.2M839.9,1029.9l-0.0,5.8M840.9,1122.3l0.3,13.9M843.3,1203.7l0.4,20.2M844.0,1273.0l0.2,14.3M843.2,1343.1l-0.4,17.6M841.5,1419.1l-0.5,17.5M840.1,1481.7l0.1,13.9M840.2,1555.8l-0.1,9.9M842.3,1872.4l-0.3,4.3M840.2,1963.3l-0.0,4.3M843.1,1007.6l-0.4,6.6M847.5,1122.7l0.0,11.0M848.7,1201.9l-0.5,14.4M846.6,1247.0l-1.1,14.6M843.8,1290.9l0.2,4.4M844.0,1371.0l0.7,20.6M848.8,1509.6l-0.8,8.5M847.1,1732.6l0.4,18.7M847.9,1835.5l-0.8,13.7M845.1,1888.6l-0.8,19.2M844.4,1997.3l0.4,7.4M850.7,694.1l-0.1,14.3M850.5,710.6l-0.8,13.6M849.7,730.6l-0.3,17.7M848.2,759.4l0.6,4.4M847.1,794.9l0.2,4.0M848.0,932.9l0.2,9.7M850.2,979.3l-0.4,11.9M846.7,1259.8l0.6,14.3M850.8,1374.5l-0.3,11.8M850.6,1432.2l0.0,6.9M850.5,1441.7l-0.6,11.2M849.9,1460.6l-1.0,18.2M850.8,1751.3l-0.1,5.4M851.1,1773.5l-0.2,18.5M848.8,1838.1l0.4,6.3M847.1,1892.9l-0.0,5.6M846.3,1935.2l0.2,17.5M846.2,1960.4l0.3,7.7M850.5,681.1l0.5,18.1M850.2,1157.2l0.6,12.0M850.8,1204.4l0.5,9.7M851.1,1221.3l0.3,20.5M851.2,1395.5l-0.5,20.6M850.6,1427.7l-0.1,8.6M850.5,1439.0l0.7,4.1M849.7,1559.9l-0.4,15.8M849.7,1581.7l-0.0,4.1M849.7,1609.0l-0.0,14.5M849.6,1631.2l0.2,13.7M851.1,1741.6l0.2,17.0M851.5,1820.0l-0.2,7.5" stroke="#43322a" stroke-width="1.5" stroke-opacity="0.80" fill="none" stroke-linecap="round"/><path d="M816.1,950.1l0.0,12.3M815.4,1024.9l0.2,4.2M814.8,1893.2l-0.0,8.5M815.0,1960.7l0.6,9.7M821.2,1017.4l-0.1,16.9M816.9,1407.0l1.3,21.4M820.8,1502.9l0.0,20.3M816.1,1761.7l0.3,11.8M815.5,1819.0l-0.2,7.1M815.6,1846.5l-0.3,14.0M816.5,1920.4l0.7,9.4M816.9,1938.8l0.6,5.6M821.5,872.0l-0.0,11.6M821.2,984.0l-0.1,4.9M822.3,1340.2l-0.7,6.6M821.8,1403.6l0.2,7.7M820.7,1513.1l-0.2,15.6M820.4,1621.3l-0.1,21.6M820.5,1675.7l-0.0,16.2M827.5,706.0l0.6,11.3M824.2,829.0l0.1,8.1M823.5,849.5l-0.2,11.3M824.3,924.4l0.4,19.0M828.0,1327.6l-0.6,14.1M827.4,1349.8l-0.6,10.2M823.1,1475.2l0.7,18.2M825.9,1821.8l1.1,21.1M827.5,1909.2l-0.6,17.7M829.2,956.7l0.3,15.3M828.1,1853.3l-0.1,11.1M827.5,1874.7l0.4,15.4M827.6,1900.3l0.3,7.6M827.8,1911.6l-0.0,13.9M832.8,841.1l-1.5,19.2M829.9,941.8l0.6,19.4M830.4,965.9l0.4,9.2M833.2,1008.1l1.2,16.0M834.2,1028.6l1.0,15.5M835.3,1050.1l0.1,4.2M837.1,1078.5l-0.2,8.6M836.1,1859.9l-0.9,13.2M835.2,938.0l1.4,15.3M837.0,958.8l1.5,19.9M839.2,994.4l0.2,7.6M831.3,1110.5l-0.1,20.8M838.7,1239.3l0.5,8.3M831.2,1858.2l0.1,11.8M831.1,1878.8l0.6,16.8M832.7,1906.6l1.3,14.0M836.2,983.4l-0.8,15.3M835.5,1017.5l0.1,7.3M838.5,1270.5l-0.8,21.8M836.4,1310.4l-0.1,9.6M840.0,1467.5l0.8,13.7M842.2,1529.2l-0.1,4.2M839.5,1806.3l1.1,15.2M843.9,751.8l-0.2,11.9M840.1,1051.2l-0.2,9.8M840.3,1096.7l0.9,9.3M844.2,1294.4l-0.2,20.8M840.5,1461.4l-0.8,16.9M839.8,1499.0l0.3,8.4M840.1,1529.0l-0.1,7.5M840.0,1993.8l-0.1,8.5M843.8,760.7l1.0,13.2M845.3,786.1l1.3,17.6M845.3,963.7l-0.8,11.6M845.3,1271.8l-1.2,13.6M847.4,1432.7l0.8,17.8M848.2,1522.4l-0.9,18.9M843.3,1959.7l-0.4,4.4M848.1,766.6l-0.5,11.1M846.0,1220.5l0.5,15.3M847.8,1297.1l0.7,20.5M849.1,1480.9l-0.6,11.0M848.5,1499.2l-0.8,9.2M848.7,1685.2l1.0,15.2M849.0,1852.3l-0.8,15.8M850.8,705.3l0.4,20.6M850.6,914.2l0.3,14.9M851.2,1348.5l0.5,20.3M850.6,1468.1l-0.4,17.1M851.2,1907.1l-0.2,7.7M851.1,1924.3l0.4,8.7" stroke="#43322a" stroke-width="2.3" stroke-opacity="0.85" fill="none" stroke-linecap="round"/></g><g clip-path="url(#cl_t)"><path d="M387.5,638.6l17.5,1.6M411.8,640.9l13.4,1.5M430.3,642.7l12.8,1.4M458.1,646.5l11.0,0.7M568.5,661.9l14.6,1.8M615.1,668.2l13.8,1.7M658.6,674.0l12.5,0.7M824.7,690.7l11.0,1.5M412.3,645.8l11.6,0.7M436.3,647.6l6.0,0.0M454.2,648.3l12.1,1.3M518.9,656.3l13.7,2.2M273.5,628.8l17.5,3.0M301.7,634.4l21.4,3.6M346.2,642.2l5.6,1.0M358.7,644.8l6.9,0.6M436.1,654.2l7.1,0.5M467.3,656.5l15.7,0.9M495.2,657.4l8.0,0.7M514.0,659.0l14.4,0.7M538.1,661.0l5.6,0.6M551.8,662.1l6.5,0.5M573.2,665.0l4.3,0.6M648.1,678.0l10.8,1.7M264.7,637.6l13.2,2.0M401.0,655.0l13.5,0.8M527.8,664.9l12.0,1.1M573.4,668.8l4.0,0.3M585.1,669.6l16.5,2.4M750.0,693.4l11.5,2.3M781.8,699.2l11.7,1.7M811.5,704.4l16.2,1.8M429.8,660.0l7.0,0.6M471.3,664.5l11.6,1.3M570.2,675.4l5.9,1.3M582.5,677.2l13.4,1.8M616.7,681.4l9.2,0.6M653.7,685.2l10.3,1.5M667.7,687.0l5.3,1.0M473.0,665.0l10.4,1.0M585.3,683.1l10.9,0.7M627.9,685.2l13.2,0.6M669.2,688.9l14.5,2.3M688.9,692.6l20.5,4.4M734.1,701.3l4.8,1.0M746.9,703.3l15.9,1.1M602.7,687.0l21.1,1.9M625.6,688.7l8.6,0.9M638.6,689.9l13.1,0.9M657.1,691.2l12.1,0.8M670.5,691.9l12.4,1.5M685.5,693.8l12.7,1.2M723.1,699.1l21.5,3.5M563.9,684.1l10.5,1.3M602.1,688.9l10.6,1.1M666.3,695.7l12.1,1.9M685.5,698.0l16.2,2.6M707.9,700.7l14.4,2.3M778.4,709.7l16.3,1.8M802.1,712.7l20.9,2.5M570.4,690.0l10.6,0.7M591.8,692.2l5.6,0.3M623.1,694.8l5.0,0.1M639.4,696.6l13.2,0.5M656.6,697.8l16.6,1.6M681.9,699.9l4.8,0.7M709.9,703.0l18.6,1.5M740.7,706.2l10.5,0.8M468.6,680.2l19.1,2.6M565.3,691.5l16.3,1.2M599.8,694.3l19.1,1.1M651.7,699.3l11.6,1.5M744.3,712.8l11.5,2.3M802.1,721.5l16.5,1.7M852.0,726.4l10.7,0.9M251.7,656.7l9.8,1.9M266.2,659.0l5.5,1.1M303.9,663.8l12.8,0.6M369.8,668.6l19.8,1.6M403.0,671.3l6.9,0.9M416.8,673.1l17.3,2.1M571.4,696.0l11.9,1.0M612.1,699.3l14.0,0.8M274.4,663.5l11.1,1.4M294.2,665.9l15.5,2.1M311.9,668.2l12.6,1.6M332.1,669.9l18.7,2.0M423.7,675.8l20.7,1.1M844.3,727.8l18.7,4.0M243.2,655.9l12.2,2.5M258.0,658.5l15.7,4.1M277.1,662.9l6.4,1.6M310.5,670.8l21.9,4.0M386.4,678.6l18.2,0.6M407.9,679.2l18.7,0.6M750.6,722.7l4.3,1.2M852.3,735.3l13.5,-0.4M247.4,667.6l8.5,1.4M264.7,670.5l16.0,1.8M282.3,672.0l16.8,2.2M301.1,674.3l9.1,0.9M311.2,675.1l7.4,0.1M321.4,675.4l20.2,0.8M429.8,683.8l5.7,1.0M440.6,685.1l10.0,1.6M814.1,737.4l6.6,0.9M831.9,739.9l14.0,1.3M274.5,667.9l20.5,3.2M372.2,686.0l19.8,3.4M402.6,691.5l14.9,2.6M843.9,743.2l4.6,0.1M282.2,677.1l6.8,0.6M378.8,688.3l4.7,0.0M406.5,691.8l13.2,1.7M684.2,726.6l15.8,1.8M745.2,733.4l11.7,1.5M823.0,741.7l9.4,1.5M247.9,674.7l13.0,1.2M334.2,683.9l12.4,1.6M361.5,687.1l6.9,0.9M430.8,695.5l6.9,1.0M730.4,732.6l4.8,0.8M752.3,735.0l10.5,1.0M778.3,737.6l9.1,1.4M800.3,740.9l16.8,1.9M839.7,745.4l20.5,2.9" stroke="#43322a" stroke-width="0.9" stroke-opacity="0.75" fill="none" stroke-linecap="round"/><path d="M514.8,654.1l18.5,2.3M537.4,657.3l21.5,2.8M588.0,664.3l16.3,2.2M632.0,670.3l22.0,2.7M707.6,679.0l9.3,1.2M757.7,683.7l10.3,0.8M331.4,639.7l20.2,2.0M371.1,642.7l9.4,0.6M485.6,652.3l19.4,2.3M739.2,688.5l14.7,0.9M416.3,652.6l6.8,0.6M449.2,655.5l14.4,0.4M756.9,693.5l20.2,1.8M329.1,647.0l17.0,1.9M381.2,653.0l14.9,1.2M456.7,659.2l15.5,1.2M486.8,661.4l16.8,1.7M508.7,663.1l15.1,1.3M551.2,666.5l12.4,1.3M604.9,671.9l20.0,2.6M638.7,676.5l7.2,0.6M707.2,686.5l21.1,3.1M516.7,669.8l18.9,1.9M553.2,674.1l5.9,0.7M639.1,683.4l9.3,1.2M676.6,688.8l17.7,1.7M700.3,691.6l5.4,0.5M719.5,694.3l14.3,1.5M756.1,699.0l12.0,1.6M440.7,663.4l13.5,0.0M510.0,670.2l12.5,2.9M561.2,680.4l20.8,2.3M598.9,684.3l12.4,-0.0M613.5,684.5l9.9,0.2M714.2,697.8l8.7,1.6M485.9,674.6l16.1,2.0M562.1,684.9l15.7,0.7M583.6,686.6l13.8,0.9M704.4,696.1l9.1,1.1M756.2,704.5l6.3,0.9M805.3,713.1l18.9,3.1M261.3,646.5l13.6,1.5M526.7,680.0l4.3,0.4M535.9,681.1l16.2,2.0M583.1,686.5l15.8,2.0M615.9,690.6l9.9,1.2M628.8,691.6l14.6,1.7M455.5,674.3l16.3,1.8M492.5,679.4l14.0,2.4M520.8,683.8l21.2,2.6M555.6,687.7l6.4,0.7M601.2,692.6l17.1,1.6M767.2,709.1l4.1,0.1M774.7,710.0l9.3,1.3M790.9,712.0l19.4,2.4M331.7,660.6l13.2,1.3M627.4,696.1l18.2,2.5M777.4,718.0l19.0,2.6M284.9,661.7l8.4,1.0M454.7,678.6l20.4,4.0M528.6,691.2l20.8,2.4M799.7,724.7l17.7,1.8M845.9,729.5l14.2,0.5M250.9,658.8l14.1,2.7M352.8,671.5l14.7,0.7M369.4,672.2l9.8,0.9M384.2,673.5l15.2,0.8M401.7,674.5l9.9,-0.2M486.9,682.8l7.8,1.2M769.2,716.4l9.8,1.0M797.2,720.3l13.2,1.9M288.3,665.5l16.8,4.2M335.3,675.1l11.8,1.8M434.7,679.7l18.7,1.7M813.6,733.4l14.9,0.8M831.6,734.6l7.1,0.4M345.8,676.9l5.9,0.3M354.1,677.3l12.9,0.5M371.9,678.1l11.6,0.7M387.6,679.1l5.0,0.2M409.4,681.2l15.2,2.0M770.2,729.6l12.1,2.5M849.0,741.3l14.8,1.3M258.5,666.0l12.9,1.1M303.0,672.0l20.7,3.5M725.2,729.5l13.2,2.7M744.8,733.4l6.5,0.8M776.4,738.3l21.3,1.9M813.2,741.8l4.3,-0.3M264.9,675.3l8.1,0.6M309.9,679.5l14.9,1.4M331.9,682.3l12.2,0.8M358.3,685.5l6.0,0.8M441.1,697.3l15.1,1.4M712.9,730.3l19.5,1.6M770.6,735.7l19.4,2.2M800.6,739.1l14.8,2.0M264.9,676.8l16.9,1.3M309.2,681.5l10.0,0.7M707.2,730.5l12.5,1.2" stroke="#43322a" stroke-width="1.5" stroke-opacity="0.80" fill="none" stroke-linecap="round"/><path d="M482.3,649.0l19.1,2.8M545.4,660.8l7.2,1.0M576.7,666.7l15.7,2.1M597.6,669.8l19.1,3.8M654.2,679.7l8.0,0.9M491.6,666.5l16.4,1.9M601.5,679.1l10.6,1.7M630.0,682.5l5.6,1.0M535.5,675.8l20.4,3.9M645.3,686.1l17.4,1.7M464.1,670.0l12.0,2.2M530.3,680.9l4.2,0.4M648.7,694.1l13.7,1.8M741.3,705.3l9.2,0.9M757.9,707.5l5.0,0.4M386.7,667.0l19.5,2.9M438.1,675.4l12.8,2.1M343.8,666.8l17.4,1.0M679.0,705.2l4.4,0.5M455.8,678.4l12.0,1.2M823.7,724.1l8.8,1.6M351.5,676.9l20.2,1.6M373.0,678.2l10.7,0.9M399.1,680.2l8.7,1.0M457.5,688.8l14.2,2.1M325.4,676.3l15.7,3.2M348.0,680.7l20.0,4.2M420.9,694.0l19.8,3.4M827.5,742.2l4.1,0.5M388.9,689.6l10.8,1.1M651.4,721.8l19.7,3.4M837.8,743.7l19.9,2.9M657.9,725.4l12.7,1.3" stroke="#43322a" stroke-width="2.3" stroke-opacity="0.85" fill="none" stroke-linecap="round"/></g><g clip-path="url(#cl_b)"><path d="M287.1,1857.9l16.0,4.0M344.4,1870.7l6.0,1.7M384.8,1880.2l5.8,1.2M413.7,1886.6l12.2,2.8M549.7,1920.5l8.5,2.0M581.7,1927.7l8.8,1.8M668.7,1946.9l15.0,3.7M690.0,1951.8l5.9,1.8M706.0,1955.4l13.8,3.6M363.5,1870.5l11.2,2.7M423.6,1887.1l5.3,1.1M572.8,1920.7l10.3,3.4M662.9,1942.3l9.6,1.6M300.2,1854.6l4.3,1.2M407.9,1880.7l8.4,1.3M423.1,1884.1l15.4,3.5M494.0,1899.6l11.6,3.0M547.0,1911.8l20.8,5.4M603.8,1926.0l4.3,0.5M615.7,1928.7l20.9,5.1M836.7,1981.1l20.7,4.6M306.9,1853.1l15.2,3.9M427.3,1880.9l13.5,3.3M480.4,1894.4l14.9,3.9M500.1,1899.2l18.6,4.3M580.4,1919.5l19.9,4.3M631.4,1931.7l5.9,1.2M676.1,1942.2l17.7,3.9M440.9,1882.7l7.4,1.7M487.3,1891.0l5.4,0.9M511.6,1896.2l18.3,4.0M609.6,1921.1l11.9,3.8M625.0,1925.3l18.0,5.6M656.0,1934.6l21.8,6.2M681.9,1941.9l19.9,4.9M509.7,1895.7l13.1,3.6M582.3,1914.1l9.3,2.0M438.9,1877.3l8.8,2.3M627.9,1919.8l12.0,2.3M755.3,1947.6l19.8,5.0M251.2,1827.7l17.7,5.1M418.2,1870.9l19.9,4.1M560.1,1900.2l4.3,1.1M572.4,1903.4l6.5,0.9M588.3,1906.7l5.0,0.9M605.8,1910.1l21.8,5.4M637.7,1917.5l17.1,4.1M708.3,1934.8l4.8,1.1M723.9,1939.4l14.2,3.6M761.8,1949.4l12.0,3.1M238.3,1820.9l18.3,3.5M548.6,1894.4l10.5,1.7M620.9,1909.5l5.1,0.7M630.2,1911.7l6.0,1.6M638.5,1913.8l5.3,1.6M649.9,1916.9l4.6,1.2M660.7,1920.2l5.0,1.5M700.1,1931.7l8.3,2.8M784.4,1953.8l7.0,1.9M270.9,1825.5l12.9,1.6M328.7,1836.0l18.8,4.3M586.0,1901.8l15.2,2.6M694.9,1922.4l8.4,1.8M712.3,1926.1l6.4,1.7M839.3,1962.7l15.8,3.9M261.4,1817.8l6.4,1.7M320.6,1833.2l9.4,2.2M332.8,1835.9l19.5,5.4M369.6,1845.5l10.9,3.1M609.7,1902.7l17.9,3.4M664.0,1914.2l8.8,1.5M810.3,1947.3l14.5,3.9M847.3,1957.0l19.9,5.1M257.4,1818.9l5.9,1.0M273.3,1822.0l17.7,3.2M316.3,1830.1l12.2,2.1M330.6,1833.0l13.0,2.4M380.3,1842.1l21.3,4.4M547.3,1884.1l12.3,3.6M605.6,1901.0l11.2,2.3M631.1,1907.1l19.0,4.4M749.0,1930.7l4.8,0.6M786.7,1938.1l8.2,1.6M826.8,1946.1l21.6,4.9M854.2,1952.8l13.3,3.2M251.1,1808.6l18.1,3.4M279.3,1814.4l15.5,3.0M367.1,1834.4l4.2,1.3M531.1,1879.7l17.0,4.2M587.4,1892.8l13.7,2.6M773.8,1930.1l19.1,4.7M837.4,1945.5l7.6,2.1M244.8,1809.6l6.9,2.4M302.6,1823.6l17.6,2.9M324.7,1827.1l11.7,1.9M563.5,1883.7l15.4,3.9M610.3,1896.5l11.3,2.8M625.6,1900.4l9.4,2.3M296.1,1813.7l14.1,2.9M312.3,1817.5l20.0,4.8M342.7,1825.5l15.1,3.6M474.3,1860.4l17.3,3.8M564.7,1880.7l12.9,2.8M594.9,1887.0l20.8,4.5M753.3,1920.8l18.0,4.9M851.9,1946.2l20.6,5.5M263.4,1805.7l13.5,4.9M632.4,1894.8l19.0,2.5M792.4,1929.0l20.9,7.3M846.4,1946.3l7.6,2.3M280.5,1809.3l15.5,3.1M516.8,1863.6l16.9,2.6M832.5,1934.6l20.9,6.9M302.8,1808.6l5.9,1.8M430.0,1840.9l20.2,5.0M547.8,1864.7l15.9,3.1M719.8,1904.0l7.2,1.7M740.3,1909.6l16.1,4.5M766.5,1917.1l20.5,5.6" stroke="#43322a" stroke-width="0.9" stroke-opacity="0.75" fill="none" stroke-linecap="round"/><path d="M364.1,1875.2l13.2,3.2M400.1,1883.7l6.0,1.1M439.3,1893.1l20.9,4.7M513.2,1911.4l11.0,2.2M608.2,1933.8l10.6,2.1M629.7,1938.7l19.1,3.8M268.4,1850.3l14.6,2.6M499.1,1902.4l14.0,2.9M530.7,1909.2l11.6,3.1M605.9,1930.2l13.6,3.2M642.8,1938.8l4.4,0.8M378.9,1873.3l21.0,5.3M460.7,1892.1l14.1,3.8M582.2,1920.7l9.8,2.4M647.6,1936.4l9.2,2.1M399.8,1874.7l13.0,3.4M643.8,1934.9l9.3,1.9M855.0,1982.4l17.4,4.3M537.5,1901.9l4.6,0.4M563.3,1907.7l5.4,1.8M593.0,1916.5l9.1,2.3M490.9,1891.5l11.0,2.8M534.9,1902.6l9.7,2.0M603.2,1918.4l17.0,3.7M624.6,1923.3l12.9,2.9M646.0,1927.5l8.2,1.5M592.1,1913.0l10.1,1.5M614.8,1917.4l9.3,1.8M673.6,1929.4l15.1,3.2M698.3,1934.7l16.6,3.3M661.5,1923.4l15.5,3.7M679.2,1927.3l14.8,4.1M697.2,1932.4l8.9,2.0M740.8,1943.9l16.6,3.9M263.9,1826.0l9.9,1.7M319.4,1838.2l8.5,2.4M604.4,1904.9l11.2,2.6M668.2,1922.4l12.7,3.8M710.4,1935.1l17.0,4.9M734.6,1942.2l10.6,2.5M753.8,1946.7l15.4,3.8M309.5,1832.1l15.0,3.0M357.1,1842.1l20.5,5.1M638.0,1911.2l4.2,0.2M649.0,1912.6l16.9,3.1M721.0,1928.1l6.4,1.8M754.5,1937.3l12.6,4.1M308.4,1830.0l7.5,1.9M573.2,1894.4l6.7,1.7M716.8,1925.2l8.5,1.6M296.9,1826.6l18.0,3.7M349.0,1836.3l9.8,1.4M366.2,1839.5l7.3,1.5M681.3,1918.3l8.6,1.2M809.0,1942.6l4.0,0.3M240.8,1806.8l4.2,0.4M319.5,1823.0l18.6,4.5M341.3,1828.1l21.1,5.0M613.2,1898.0l7.0,1.3M623.7,1900.6l15.3,2.6M811.9,1939.3l9.3,2.2M824.6,1942.8l4.4,0.8M261.3,1814.3l11.2,2.7M346.3,1830.8l12.6,2.1M394.1,1839.0l8.0,1.1M535.3,1875.0l15.1,4.4M587.6,1890.4l9.9,2.7M780.8,1929.1l20.2,4.0M826.5,1939.7l4.4,1.2M271.0,1806.9l13.6,3.2M511.8,1869.0l14.4,3.5M533.6,1874.3l4.8,0.7M547.3,1877.1l9.0,2.3M792.1,1931.0l17.3,4.4M242.4,1798.7l12.5,4.3M303.4,1818.7l13.3,3.2M481.5,1853.0l9.7,2.9M507.4,1861.0l20.2,6.3M566.5,1879.9l21.9,5.7M760.1,1918.7l17.8,5.7M822.8,1939.0l17.7,5.5M261.2,1804.5l5.4,0.8M314.6,1815.0l20.4,3.1M464.2,1851.5l17.4,4.9M490.6,1858.8l12.1,2.0M538.0,1867.2l6.7,0.6M556.2,1870.0l11.7,1.6M627.4,1887.0l12.6,3.4M761.1,1918.2l20.1,3.9M784.3,1922.2l12.1,3.1M802.0,1926.1l21.6,6.1M507.2,1856.9l4.5,0.9M579.8,1871.1l12.8,2.8M610.7,1877.7l17.1,3.1M633.7,1882.6l19.9,4.3M792.8,1924.5l17.5,4.7M836.2,1935.9l10.3,2.9" stroke="#43322a" stroke-width="1.5" stroke-opacity="0.80" fill="none" stroke-linecap="round"/><path d="M312.8,1858.2l15.6,3.8M441.5,1891.7l21.4,4.5M481.1,1899.4l6.2,1.1M351.9,1866.9l11.6,3.0M509.6,1903.3l19.9,4.6M453.3,1887.2l4.0,1.4M461.0,1889.8l4.3,0.5M533.6,1907.4l16.9,4.2M605.8,1925.3l21.1,5.5M426.5,1880.3l9.3,1.6M464.7,1886.6l16.1,3.3M546.8,1904.1l6.7,1.1M570.6,1910.0l13.3,4.0M552.8,1907.1l19.5,4.2M665.4,1931.6l17.1,3.6M686.3,1936.2l21.9,4.3M466.0,1884.5l21.6,4.9M561.3,1906.6l18.4,3.6M645.9,1923.4l21.4,4.5M724.0,1940.3l8.6,1.7M395.8,1860.8l21.2,6.1M686.5,1927.5l9.2,2.6M669.1,1916.3l21.1,4.6M831.0,1960.1l4.5,1.2M280.0,1822.6l19.3,4.8M356.3,1842.5l6.5,1.5M393.4,1852.3l14.6,3.3M639.8,1909.0l16.1,3.5M677.8,1916.8l13.8,3.1M737.4,1929.9l7.6,1.7M416.0,1849.4l8.0,1.8M665.4,1914.6l9.8,2.0M712.9,1923.9l5.4,1.1M303.2,1819.5l10.8,2.4M380.3,1837.7l21.3,6.4M562.1,1887.2l17.6,4.0M850.0,1949.7l16.4,4.4M284.4,1819.3l12.9,2.5M504.6,1865.3l13.7,4.5M807.7,1934.7l11.1,3.3M838.7,1942.7l15.1,4.4M367.0,1831.5l11.7,3.8M823.5,1939.0l19.9,5.3M332.0,1825.0l5.3,1.2M534.8,1870.0l13.0,3.9M601.5,1889.0l14.6,3.2M735.2,1914.6l9.6,1.2M278.8,1802.1l4.4,0.8M469.7,1849.6l16.9,3.2M527.0,1860.6l5.2,1.0M692.8,1896.4l5.0,2.0" stroke="#43322a" stroke-width="2.3" stroke-opacity="0.85" fill="none" stroke-linecap="round"/></g></g><g transform="matrix(1,0.12260,0,1,258.2,621.0)"><polygon points="0.0,0.0 16.0,-10.9 610.5,-10.6 593.4,-0.3" fill="#c5855f" filter="url(#f_bandH)"/></g><g transform="matrix(1,0.23220,0,1,292.8,1810.5)"><polygon points="0.0,0.0 16.6,-10.2 520.5,-10.2 522.2,-2.3" fill="#9f694d" filter="url(#f_bandH)"/></g><polygon points="292.8,673.2 309.4,675.2 309.4,1804.2 292.8,1810.5" fill="url(#f_ginner)" filter="url(#f_bandV)"/><polygon points="851.6,693.5 868.7,685.2 868.7,1986.4 851.6,1992.0" fill="url(#f_gside)" filter="url(#f_bandV)"/><g stroke="#6b412c" stroke-opacity="0.35" stroke-width="1"><line x1="857" y1="691" x2="857" y2="1990"/><line x1="862.5" y1="688.5" x2="862.5" y2="1988"/><line x1="300" y1="674" x2="300" y2="1808"/><line x1="304.5" y1="674.5" x2="304.5" y2="1806"/></g><polyline points="258.2,621.0 851.6,693.5 851.6,1992.0" fill="none" stroke="#d9a27c" stroke-width="1.2" stroke-opacity="0.8"/><polyline points="814.2,738.0 814.2,1921.0" fill="none" stroke="#bd7a58" stroke-width="1.6" stroke-opacity="0.85"/><g stroke="#6e422d" stroke-width="1.3" opacity="0.75"><line x1="258.2" y1="621" x2="292.8" y2="673.2"/><line x1="851.6" y1="693.5" x2="813.3" y2="737.6"/><line x1="258.2" y1="1851.9" x2="292.8" y2="1810.5"/><line x1="851.6" y1="1992" x2="815" y2="1929.5"/></g></g><polyline points="1506.0,537.7 1876.8,537.7 1876.8,815.4 2032.0,815.4" fill="none" stroke="#000" stroke-width="2.6"/><circle cx="1483.4" cy="537.5" r="18.8" fill="none" stroke="#000" stroke-width="9"/><polyline points="1350.0,845.0 1721.5,845.0 1721.5,1123.4 1901.0,1123.4" fill="none" stroke="#000" stroke-width="2.6"/><circle cx="1327.2" cy="845.2" r="18.8" fill="none" stroke="#000" stroke-width="9"/><polyline points="1210.0,1154.0 1581.3,1154.0 1581.3,1432.0 1819.0,1432.0" fill="none" stroke="#000" stroke-width="2.6"/><circle cx="1187.6" cy="1154.0" r="18.8" fill="none" stroke="#000" stroke-width="9"/><polyline points="1037.0,1464.2 1391.6,1466.3 1391.8,1746.0 1637.0,1749.0" fill="none" stroke="#000" stroke-width="2.6"/><circle cx="1014.6" cy="1464.0" r="18.8" fill="none" stroke="#000" stroke-width="9"/><polyline points="883.0,1770.8 1253.9,1770.8 1253.9,2050.0 1509.6,2050.0" fill="none" stroke="#000" stroke-width="2.6"/><circle cx="860.3" cy="1771.5" r="18.8" fill="none" stroke="#000" stroke-width="9"/><g filter="url(#f_ds)"><text transform="translate(2031.93,834.50) scale(0.8056,1)" font-size="57.70" font-weight="700" fill="#7cc14a" stroke="#7cc14a" stroke-width="4.4" stroke-linejoin="round">B</text><text transform="translate(2073.69,834.50) scale(0.9150,1)" font-size="57.70" font-weight="700" fill="#7cc14a" stroke="#7cc14a" stroke-width="4.4" stroke-linejoin="round">A</text><text transform="translate(2123.72,834.50) scale(0.7157,1)" font-size="57.70" font-weight="700" fill="#7cc14a" stroke="#7cc14a" stroke-width="4.4" stroke-linejoin="round">C</text><text transform="translate(2163.30,834.50) scale(0.8866,1)" font-size="57.70" font-weight="700" fill="#7cc14a" stroke="#7cc14a" stroke-width="4.4" stroke-linejoin="round">K</text><text transform="translate(2209.84,834.50) scale(0.8005,1)" font-size="57.70" font-weight="700" fill="#000" stroke="#000" stroke-width="4.4" stroke-linejoin="round">B</text><text transform="translate(2250.90,834.50) scale(0.9505,1)" font-size="57.70" font-weight="700" fill="#000" stroke="#000" stroke-width="4.4" stroke-linejoin="round">O</text><text transform="translate(2301.68,834.50) scale(0.9010,1)" font-size="57.70" font-weight="700" fill="#000" stroke="#000" stroke-width="4.4" stroke-linejoin="round">A</text><text transform="translate(2349.12,834.50) scale(0.8142,1)" font-size="57.70" font-weight="700" fill="#000" stroke="#000" stroke-width="4.4" stroke-linejoin="round">R</text><text transform="translate(2392.21,834.50) scale(0.9360,1)" font-size="57.70" font-weight="700" fill="#000" stroke="#000" stroke-width="4.4" stroke-linejoin="round">D</text><text transform="translate(1910.61,1140.50) scale(0.7955,1)" font-size="55.96" font-weight="700" fill="#7cc14a" stroke="#7cc14a" stroke-width="4.4" stroke-linejoin="round">S</text><text transform="translate(1951.06,1140.50) scale(0.9006,1)" font-size="55.96" font-weight="700" fill="#7cc14a" stroke="#7cc14a" stroke-width="4.4" stroke-linejoin="round">U</text><text transform="translate(1996.80,1140.50) scale(1.2041,1)" font-size="55.96" font-weight="700" fill="#7cc14a" stroke="#7cc14a" stroke-width="4.4" stroke-linejoin="round">I</text><text transform="translate(2024.88,1140.50) scale(0.9175,1)" font-size="55.96" font-weight="700" fill="#7cc14a" stroke="#7cc14a" stroke-width="4.4" stroke-linejoin="round">T</text><text transform="translate(2060.05,1140.50) scale(0.9405,1)" font-size="55.96" font-weight="700" fill="#7cc14a" stroke="#7cc14a" stroke-width="4.4" stroke-linejoin="round">A</text><text transform="translate(2108.67,1140.50) scale(0.7811,1)" font-size="55.96" font-weight="700" fill="#7cc14a" stroke="#7cc14a" stroke-width="4.4" stroke-linejoin="round">B</text><text transform="translate(2152.19,1140.50) scale(0.7679,1)" font-size="55.96" font-weight="700" fill="#7cc14a" stroke="#7cc14a" stroke-width="4.4" stroke-linejoin="round">L</text><text transform="translate(2189.36,1140.50) scale(0.7835,1)" font-size="55.96" font-weight="700" fill="#7cc14a" stroke="#7cc14a" stroke-width="4.4" stroke-linejoin="round">E</text><text transform="translate(2248.81,1140.50) scale(0.8801,1)" font-size="55.96" font-weight="700" fill="#000" stroke="#000" stroke-width="4.4" stroke-linejoin="round">P</text><text transform="translate(2292.12,1140.50) scale(1.0006,1)" font-size="55.96" font-weight="700" fill="#000" stroke="#000" stroke-width="4.4" stroke-linejoin="round">H</text><text transform="translate(2340.86,1140.50) scale(0.9193,1)" font-size="55.96" font-weight="700" fill="#000" stroke="#000" stroke-width="4.4" stroke-linejoin="round">O</text><text transform="translate(2388.28,1140.50) scale(0.9175,1)" font-size="55.96" font-weight="700" fill="#000" stroke="#000" stroke-width="4.4" stroke-linejoin="round">T</text><text transform="translate(2428.76,1140.50) scale(0.9124,1)" font-size="55.96" font-weight="700" fill="#000" stroke="#000" stroke-width="4.4" stroke-linejoin="round">O</text><text transform="translate(1816.74,1452.20) scale(0.9416,1)" font-size="56.10" font-weight="700" fill="#7cc14a" stroke="#7cc14a" stroke-width="4.4" stroke-linejoin="round">W</text><text transform="translate(1876.01,1452.20) scale(0.9368,1)" font-size="56.10" font-weight="700" fill="#7cc14a" stroke="#7cc14a" stroke-width="4.4" stroke-linejoin="round">H</text><text transform="translate(1922.95,1452.20) scale(1.0407,1)" font-size="56.10" font-weight="700" fill="#7cc14a" stroke="#7cc14a" stroke-width="4.4" stroke-linejoin="round">I</text><text transform="translate(1949.60,1452.20) scale(0.8645,1)" font-size="56.10" font-weight="700" fill="#7cc14a" stroke="#7cc14a" stroke-width="4.4" stroke-linejoin="round">T</text><text transform="translate(1990.69,1452.20) scale(0.7650,1)" font-size="56.10" font-weight="700" fill="#7cc14a" stroke="#7cc14a" stroke-width="4.4" stroke-linejoin="round">E</text><text transform="translate(2049.01,1452.20) scale(1.0015,1)" font-size="56.10" font-weight="700" fill="#000" stroke="#000" stroke-width="4.4" stroke-linejoin="round">M</text><text transform="translate(2105.46,1452.20) scale(0.9057,1)" font-size="56.10" font-weight="700" fill="#000" stroke="#000" stroke-width="4.4" stroke-linejoin="round">O</text><text transform="translate(2155.03,1452.20) scale(0.9195,1)" font-size="56.10" font-weight="700" fill="#000" stroke="#000" stroke-width="4.4" stroke-linejoin="round">U</text><text transform="translate(2201.68,1452.20) scale(0.9582,1)" font-size="56.10" font-weight="700" fill="#000" stroke="#000" stroke-width="4.4" stroke-linejoin="round">N</text><text transform="translate(2251.62,1452.20) scale(0.8779,1)" font-size="56.10" font-weight="700" fill="#000" stroke="#000" stroke-width="4.4" stroke-linejoin="round">T</text><text transform="translate(1695.05,1761.30) scale(0.7802,1)" font-size="56.69" font-weight="700" fill="#7cc14a" stroke="#7cc14a" stroke-width="4.4" stroke-linejoin="round">C</text><text transform="translate(1739.62,1761.30) scale(0.7234,1)" font-size="56.69" font-weight="700" fill="#7cc14a" stroke="#7cc14a" stroke-width="4.4" stroke-linejoin="round">L</text><text transform="translate(1776.54,1761.30) scale(0.7110,1)" font-size="56.69" font-weight="700" fill="#7cc14a" stroke="#7cc14a" stroke-width="4.4" stroke-linejoin="round">E</text><text transform="translate(1813.84,1761.30) scale(0.9391,1)" font-size="56.69" font-weight="700" fill="#7cc14a" stroke="#7cc14a" stroke-width="4.4" stroke-linejoin="round">A</text><text transform="translate(1861.99,1761.30) scale(0.8049,1)" font-size="56.69" font-weight="700" fill="#7cc14a" stroke="#7cc14a" stroke-width="4.4" stroke-linejoin="round">R</text><text transform="translate(1925.94,1761.30) scale(0.8345,1)" font-size="56.69" font-weight="700" fill="#000" stroke="#000" stroke-width="4.4" stroke-linejoin="round">P</text><text transform="translate(1969.21,1761.30) scale(0.7332,1)" font-size="56.69" font-weight="700" fill="#000" stroke="#000" stroke-width="4.4" stroke-linejoin="round">E</text><text transform="translate(2007.96,1761.30) scale(0.8223,1)" font-size="56.69" font-weight="700" fill="#000" stroke="#000" stroke-width="4.4" stroke-linejoin="round">R</text><text transform="translate(2053.98,1761.30) scale(0.7708,1)" font-size="56.69" font-weight="700" fill="#000" stroke="#000" stroke-width="4.4" stroke-linejoin="round">S</text><text transform="translate(2093.52,1761.30) scale(0.8510,1)" font-size="56.69" font-weight="700" fill="#000" stroke="#000" stroke-width="4.4" stroke-linejoin="round">P</text><text transform="translate(2137.45,1761.30) scale(0.7083,1)" font-size="56.69" font-weight="700" fill="#000" stroke="#000" stroke-width="4.4" stroke-linejoin="round">E</text><text transform="translate(2174.68,1761.30) scale(0.9683,1)" font-size="56.69" font-weight="700" fill="#000" stroke="#000" stroke-width="4.4" stroke-linejoin="round">X</text><text transform="translate(1533.00,2068.90) scale(0.9877,1)" font-size="56.54" font-weight="700" fill="#7cc14a" stroke="#7cc14a" stroke-width="4.4" stroke-linejoin="round">M</text><text transform="translate(1587.86,2068.90) scale(0.8916,1)" font-size="56.54" font-weight="700" fill="#7cc14a" stroke="#7cc14a" stroke-width="4.4" stroke-linejoin="round">D</text><text transform="translate(1637.65,2068.90) scale(0.8370,1)" font-size="56.54" font-weight="700" fill="#7cc14a" stroke="#7cc14a" stroke-width="4.4" stroke-linejoin="round">F</text><text transform="translate(1696.34,2068.90) scale(0.8400,1)" font-size="56.54" font-weight="700" fill="#000" stroke="#000" stroke-width="4.4" stroke-linejoin="round">F</text><text transform="translate(1735.57,2068.90) scale(0.8217,1)" font-size="56.54" font-weight="700" fill="#000" stroke="#000" stroke-width="4.4" stroke-linejoin="round">R</text><text transform="translate(1779.12,2068.90) scale(0.9153,1)" font-size="56.54" font-weight="700" fill="#000" stroke="#000" stroke-width="4.4" stroke-linejoin="round">A</text><text transform="translate(1825.30,2068.90) scale(0.9877,1)" font-size="56.54" font-weight="700" fill="#000" stroke="#000" stroke-width="4.4" stroke-linejoin="round">M</text><text transform="translate(1881.48,2068.90) scale(0.7570,1)" font-size="56.54" font-weight="700" fill="#000" stroke="#000" stroke-width="4.4" stroke-linejoin="round">E</text></g><filter id="lgs2" x="-10%" y="-10%" width="130%" height="130%"><feDropShadow dx="1" dy="2" stdDeviation="1.6" flood-color="#000" flood-opacity="0.35"/></filter><g filter="url(#lgs2)"><g transform="translate(1746.8,67)"><g fill="#000"><rect x="0" y="0" width="12.2" height="296"/><rect x="0" y="0" width="190" height="14.4"/><rect x="176.8" y="0" width="13.2" height="24.5"/><rect x="176.8" y="43.2" width="13.2" height="252.8"/><rect x="48.2" y="281.5" width="141.8" height="14.5"/><path d="M22,321 V24 H212 V321 H66.9 V306 H198.8 V38.6 H34.2 V321 Z"/></g></g></g><text transform="translate(1981.86,246.10) scale(1.0825,1)" font-size="56.69" font-weight="700" fill="#0a0a0a">M</text><text transform="translate(2033.20,246.10) scale(1.1500,1)" font-size="56.69" font-weight="700" fill="#0a0a0a">N</text><text transform="translate(2080.48,246.10) scale(1.1031,1)" font-size="56.69" font-weight="700" fill="#0a0a0a">D</text><text transform="translate(2141.75,246.10) scale(1.0858,1)" font-size="56.69" font-weight="700" fill="#0a0a0a">D</text><text transform="translate(2186.96,246.10) scale(1.0553,1)" font-size="56.69" font-weight="700" fill="#0a0a0a">E</text><text transform="translate(2228.29,246.10) scale(1.0637,1)" font-size="56.69" font-weight="700" fill="#0a0a0a">A</text><text transform="translate(2271.85,246.10) scale(1.1359,1)" font-size="56.69" font-weight="700" fill="#0a0a0a">L</text><text transform="translate(2310.52,246.10) scale(1.2503,1)" font-size="56.69" font-weight="700" fill="#0a0a0a">I</text><text transform="translate(2330.47,246.10) scale(1.1320,1)" font-size="56.69" font-weight="700" fill="#0a0a0a">N</text><text transform="translate(2378.18,246.10) scale(1.0219,1)" font-size="56.69" font-weight="700" fill="#0a0a0a">G</text><text transform="translate(2424.64,246.10) scale(0.9743,1)" font-size="56.69" font-weight="700" fill="#0a0a0a">S</text><text transform="translate(2045.82,300.70) scale(0.8012,1)" font-size="38.08" font-weight="700" fill="#0a0a0a" stroke="#0a0a0a" stroke-width="1.2" stroke-linejoin="round">P</text><text transform="translate(2069.05,300.70) scale(0.6842,1)" font-size="38.08" font-weight="700" fill="#0a0a0a" stroke="#0a0a0a" stroke-width="1.2" stroke-linejoin="round">R</text><text transform="translate(2092.06,300.70) scale(0.6792,1)" font-size="38.08" font-weight="700" fill="#0a0a0a" stroke="#0a0a0a" stroke-width="1.2" stroke-linejoin="round">E</text><text transform="translate(2113.43,300.70) scale(1.0014,1)" font-size="38.08" font-weight="700" fill="#0a0a0a" stroke="#0a0a0a" stroke-width="1.2" stroke-linejoin="round">M</text><text transform="translate(2150.37,300.70) scale(0.7244,1)" font-size="38.08" font-weight="700" fill="#0a0a0a" stroke="#0a0a0a" stroke-width="1.2" stroke-linejoin="round">I</text><text transform="translate(2163.85,300.70) scale(0.7984,1)" font-size="38.08" font-weight="700" fill="#0a0a0a" stroke="#0a0a0a" stroke-width="1.2" stroke-linejoin="round">U</text><text transform="translate(2190.03,300.70) scale(1.0014,1)" font-size="38.08" font-weight="700" fill="#0a0a0a" stroke="#0a0a0a" stroke-width="1.2" stroke-linejoin="round">M</text><text transform="translate(2235.27,300.70) scale(0.9000,1)" font-size="38.08" font-weight="700" fill="#0a0a0a" stroke="#0a0a0a" stroke-width="1.2" stroke-linejoin="round">Q</text><text transform="translate(2266.42,300.70) scale(0.7568,1)" font-size="38.08" font-weight="700" fill="#0a0a0a" stroke="#0a0a0a" stroke-width="1.2" stroke-linejoin="round">U</text><text transform="translate(2290.30,300.70) scale(0.8610,1)" font-size="38.08" font-weight="700" fill="#0a0a0a" stroke="#0a0a0a" stroke-width="1.2" stroke-linejoin="round">A</text><text transform="translate(2317.13,300.70) scale(0.6468,1)" font-size="38.08" font-weight="700" fill="#0a0a0a" stroke="#0a0a0a" stroke-width="1.2" stroke-linejoin="round">L</text><text transform="translate(2336.17,300.70) scale(0.7244,1)" font-size="38.08" font-weight="700" fill="#0a0a0a" stroke="#0a0a0a" stroke-width="1.2" stroke-linejoin="round">I</text><text transform="translate(2346.30,300.70) scale(0.8103,1)" font-size="38.08" font-weight="700" fill="#0a0a0a" stroke="#0a0a0a" stroke-width="1.2" stroke-linejoin="round">T</text><text transform="translate(2365.24,300.70) scale(0.8344,1)" font-size="38.08" font-weight="700" fill="#0a0a0a" stroke="#0a0a0a" stroke-width="1.2" stroke-linejoin="round">Y</text><g filter="url(#dsv)"><g transform="translate(75.5,2057.7) rotate(-90)" fill="#7cc14a" color="#7cc14a"><path d="M0,0 H45.2 V15.5 H17 V45.5 H41 V60.9 H17 V108.5 H0 Z"/></g><g transform="translate(75.5,1953.3) rotate(-90)" fill="#7cc14a" color="#7cc14a"><path d="M0,108.5 V0 H44 Q54.7,0 54.7,10.7 V49.3 Q54.7,60 44,60 H17 V108.5 Z M17,15.5 V46 H38 V15.5 Z" fill-rule="evenodd"/><path d="M21.6,46.9 L39.4,46.9 L56.3,108.5 L38.7,108.5 Z"/></g><g transform="translate(75.5,1841.0) rotate(-90)" fill="#7cc14a" color="#7cc14a"><path d="M0,108.5 L22.5,0 H35.5 L58,108.5 H41.5 L37.5,89 H20.5 L16.5,108.5 Z M29,27 L36.6,72 H21.4 Z" fill-rule="evenodd"/></g><g transform="translate(75.5,1722.9) rotate(-90)" fill="#7cc14a" color="#7cc14a"><path d="M0,108.5 V0 H16.5 L33,51 L49.5,0 H66 V108.5 H49.5 V37 L37.5,99 H28.5 L16.5,37 V108.5 Z"/></g><g transform="translate(75.5,1593.9) rotate(-90)" fill="#7cc14a" color="#7cc14a"><path d="M0,0 H45.5 V15.5 H17.0 V46.2 H41.5 V60.6 H17.0 V93.0 H45.5 V108.5 H0 Z"/></g><g transform="translate(75.5,1406.2) rotate(-90)" fill="#000" color="#000"><path d="M44.55,34.8 V7.75 H8.25 V40 L44.55,68.5 V100.75 H8.25 V68.7" fill="none" stroke="currentColor" stroke-width="16.0" stroke-linejoin="round"/></g><g transform="translate(75.5,1296.6) rotate(-90)" fill="#000" color="#000"><path d="M0,0 H52.4 V15.5 H34.8 V108.5 H17.6 V15.5 H0 Z"/></g><g transform="translate(75.5,1186.4) rotate(-90)" fill="#000" color="#000"><path d="M0,108.5 V0 H44 Q54.7,0 54.7,10.7 V49.3 Q54.7,60 44,60 H17 V108.5 Z M17,15.5 V46 H38 V15.5 Z" fill-rule="evenodd"/><path d="M21.6,46.9 L39.4,46.9 L56.3,108.5 L38.7,108.5 Z"/></g><g transform="translate(75.5,1069.8) rotate(-90)" fill="#000" color="#000"><path d="M8.25,0 V100.75 H46.45 V0" fill="none" stroke="currentColor" stroke-width="16.0" stroke-linejoin="round"/></g><g transform="translate(75.5,951.2) rotate(-90)" fill="#000" color="#000"><path d="M45.35,36 V7.75 H8.25 V100.75 H45.35 V68.7" fill="none" stroke="currentColor" stroke-width="16.0" stroke-linejoin="round"/></g><g transform="translate(75.5,838.9) rotate(-90)" fill="#000" color="#000"><path d="M0,0 H52.4 V15.5 H34.8 V108.5 H17.6 V15.5 H0 Z"/></g><g transform="translate(75.5,728.4) rotate(-90)" fill="#000" color="#000"><path d="M8.25,0 V100.75 H46.45 V0" fill="none" stroke="currentColor" stroke-width="16.0" stroke-linejoin="round"/></g><g transform="translate(75.5,611.1) rotate(-90)" fill="#000" color="#000"><path d="M0,108.5 V0 H44 Q54.7,0 54.7,10.7 V49.3 Q54.7,60 44,60 H17 V108.5 Z M17,15.5 V46 H38 V15.5 Z" fill-rule="evenodd"/><path d="M21.6,46.9 L39.4,46.9 L56.3,108.5 L38.7,108.5 Z"/></g><g transform="translate(75.5,494.2) rotate(-90)" fill="#000" color="#000"><path d="M0,0 H45.5 V15.5 H17.0 V46.2 H41.5 V60.6 H17.0 V93.0 H45.5 V108.5 H0 Z"/></g></g></svg></div></body></html>
